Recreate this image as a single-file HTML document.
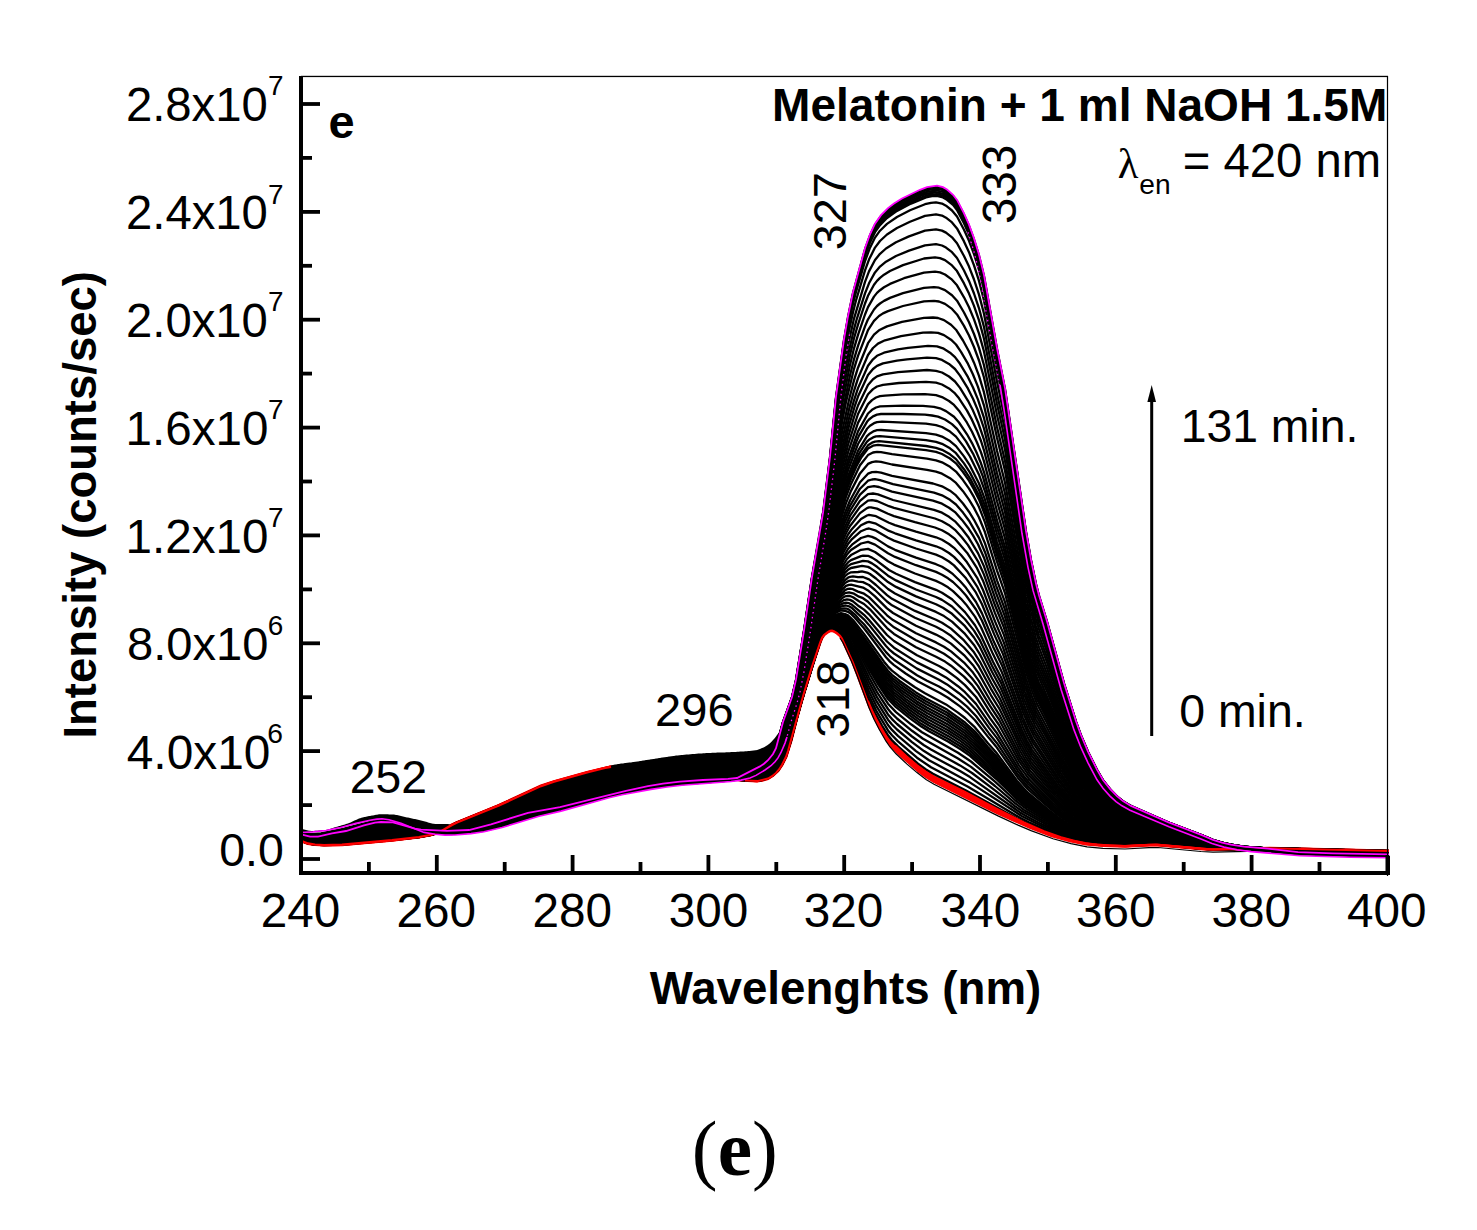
<!DOCTYPE html>
<html><head><meta charset="utf-8"><style>
html,body{margin:0;padding:0;background:#fff;overflow:hidden;width:1477px;height:1230px;}
svg{display:block;}
</style></head><body>
<svg width="1477" height="1230" viewBox="0 0 1477 1230">
<rect width="1477" height="1230" fill="#fff"/>
<path d="M301 840.8l7 2.7 7 1.1 9 0.5 18-0.4 50-4.4 27-3.2 12-2.2 8-2.4 13-7.6 5-2.4 42-17.1 42-19.4 13-4.3 33-9.2 23-5.6 12-0.2 23 1.7 66 8.6 32 3.3 14 0.7 5-0.8 6-1.7 5-3.1 5-4.6 4-6 4-8 5-16 6-23.4 7-24.6 9-29.4 7-20.6 2-5 2-2.9 4-3.1 2-1 2-0.2 2 0.6 3 1.9 3 2.6 2 2.9 11 24.1 16 42.6 5 11.3 6 11.6 7 11.9 4 5.4 6 6.5 21 18.6 8 6 8 4.9 64 31.6 32 14.3 22 8.3 18 5 16 3.3 17 1.5 22 0.8 24-1.4 9 0 43 3.9 12 0.7 57-1.3 119 2.8" fill="none" stroke="#f00" stroke-width="3"/>
<path d="M301 840.8l7 2.6 7 1.2 9 0.5 18-0.4 50-4.5 27-3.1 12-2.2 8-2.5 17-9.4 43-17.6 42-19.3 13-4.3 33-9.2 23-5.6 12-0.2 23 1.7 66 8.5 32 3.2 14 0.7 5-0.7 6-1.8 5-3.1 5-4.6 4-6 4-8 5-16.1 7-27.1 6-20.9 9-29.5 7-20.8 2-4.9 2-3 4-3.3 2-1 2-0.3 2 0.5 3 1.8 3 2.5 2 2.9 10 21.3 17 44.6 6 13.3 7 13 6 9.7 4 5.2 6 6.2 20 17.5 8 5.9 8 4.9 30 14.7 50 25.3 13 6 13 5.3 17 6.2 21 5.5 12 2.1 18 1.4 18 0.5 30-1.4 56 4.7 58-1.2 119 2.8" fill="none" stroke="#f00" stroke-width="2.5"/>
<path d="M301 840.7l7 2.7 7 1.2 9 0.4 18-0.4 50-4.5 27-3 12-2.2 8-2.5 17-9.4 43-17.5 42-19.3 13-4.2 33-9.3 23-5.6 12-0.2 23 1.7 66 8.4 31 3.1 15 0.8 5-0.8 6-1.8 5-3 5-4.8 4-6 4-8 5-16 7-27.2 6-21 9-29.6 7-20.8 2-5 2-3 4-3.4 2-1 2-0.4 3 0.8 4 2.8 2 2.1 2 3.3 10 21.6 16 41.9 6 13.1 7 12.9 6 9.7 4 5.1 6 6.2 20 17.4 8 5.9 8 4.9 31 15.2 54 28.1 24 10.6 16 5.8 21 5.6 11 1.9 18 1.4 17 0.5 23-1.2 9 0 43 4 12 0.7 57-1.2 119 2.8" fill="none" stroke="#f00" stroke-width="2.5"/>
<path d="M301.0,828.5 302.0,828.8 303.0,829.2 304.0,829.5 305.0,829.8 306.0,830.0 307.0,830.3 308.0,830.5 309.0,830.7 310.0,830.8 311.0,830.9 312.0,830.9 313.0,830.9 314.0,830.9 315.0,830.8 316.0,830.8 317.0,830.7 318.0,830.7 319.0,830.6 320.0,830.5 321.0,830.4 322.0,830.3 323.0,830.2 324.0,830.1 325.0,830.0 326.0,829.9 327.0,829.7 328.0,829.4 329.0,829.2 330.0,828.9 331.0,828.6 332.0,828.2 333.0,827.9 334.0,827.6 335.0,827.3 336.0,827.0 337.0,826.7 338.0,826.4 339.0,826.1 340.0,825.9 341.0,825.6 342.0,825.3 343.0,825.0 344.0,824.7 345.0,824.4 346.0,824.1 347.0,823.8 348.0,823.4 349.0,823.1 350.0,822.7 351.0,822.3 352.0,821.8 353.0,821.3 354.0,820.8 355.0,820.3 356.0,819.9 357.0,819.4 358.0,818.9 359.0,818.5 360.0,818.2 361.0,817.9 362.0,817.6 363.0,817.4 364.0,817.1 365.0,816.9 366.0,816.7 367.0,816.5 368.0,816.3 369.0,816.1 370.0,815.9 371.0,815.8 372.0,815.6 373.0,815.4 374.0,815.2 375.0,815.0 376.0,814.8 377.0,814.7 378.0,814.5 379.0,814.3 380.0,814.2 381.0,814.2 382.0,814.2 383.0,814.2 384.0,814.2 385.0,814.2 386.0,814.3 387.0,814.3 388.0,814.3 389.0,814.4 390.0,814.4 391.0,814.5 392.0,814.5 393.0,814.6 394.0,814.6 395.0,814.7 396.0,814.9 397.0,815.1 398.0,815.3 399.0,815.5 400.0,815.7 401.0,816.0 402.0,816.2 403.0,816.5 404.0,816.7 405.0,817.0 406.0,817.2 407.0,817.4 408.0,817.6 409.0,817.8 410.0,818.0 411.0,818.2 412.0,818.5 413.0,818.7 414.0,818.9 415.0,819.1 416.0,819.3 417.0,819.6 418.0,819.8 419.0,820.0 420.0,820.2 421.0,820.4 422.0,820.7 423.0,820.9 424.0,821.2 425.0,821.5 426.0,821.8 427.0,822.1 428.0,822.4 429.0,822.7 430.0,823.0 431.0,823.3 432.0,823.5 433.0,823.7 434.0,823.8 435.0,823.9 436.0,823.9 437.0,823.9 438.0,823.9 439.0,823.9 440.0,823.9 441.0,823.9 442.0,823.9 443.0,823.9 444.0,823.9 445.0,823.9 446.0,823.9 447.0,823.9 448.0,823.9 449.0,824.3 450.0,824.6 451.0,824.8 452.0,824.9 453.0,824.8 454.0,824.7 455.0,824.5 456.0,824.2 457.0,823.9 458.0,823.5 459.0,823.0 460.0,822.6 461.0,822.2 462.0,821.7 463.0,821.3 464.0,820.9 465.0,820.5 466.0,820.1 467.0,819.7 468.0,819.2 469.0,818.8 470.0,818.4 471.0,818.0 472.0,817.6 473.0,817.2 474.0,816.8 475.0,816.4 476.0,816.0 477.0,815.6 478.0,815.2 479.0,814.8 480.0,814.4 481.0,814.0 482.0,813.6 483.0,813.2 484.0,812.8 485.0,812.4 486.0,812.0 487.0,811.6 488.0,811.3 489.0,810.9 490.0,810.5 491.0,810.1 492.0,809.7 493.0,809.3 494.0,808.9 495.0,808.4 496.0,808.0 497.0,807.6 498.0,807.2 499.0,806.8 500.0,806.3 501.0,805.9 502.0,805.4 503.0,805.0 504.0,804.5 505.0,804.1 506.0,803.6 507.0,803.2 508.0,802.7 509.0,802.2 510.0,801.8 511.0,801.3 512.0,800.8 513.0,800.4 514.0,799.9 515.0,799.5 516.0,799.0 517.0,798.5 518.0,798.1 519.0,797.6 520.0,797.1 521.0,796.7 522.0,796.2 523.0,795.7 524.0,795.2 525.0,794.7 526.0,794.2 527.0,793.7 528.0,793.2 529.0,792.8 530.0,792.3 531.0,791.8 532.0,791.3 533.0,790.8 534.0,790.4 535.0,789.9 536.0,789.5 537.0,789.0 538.0,788.6 539.0,788.2 540.0,787.8 541.0,787.4 542.0,787.0 543.0,786.7 544.0,786.3 545.0,786.0 546.0,785.6 547.0,785.3 548.0,785.0 549.0,784.7 550.0,784.3 551.0,784.0 552.0,783.7 553.0,783.4 554.0,783.1 555.0,782.8 556.0,782.6 557.0,782.3 558.0,782.0 559.0,781.7 560.0,781.4 561.0,781.1 562.0,780.8 563.0,780.6 564.0,780.3 565.0,780.0 566.0,779.8 567.0,779.5 568.0,779.3 569.0,779.0 570.0,778.7 571.0,778.5 572.0,778.2 573.0,777.9 574.0,777.6 575.0,777.4 576.0,777.1 577.0,776.8 578.0,776.5 579.0,776.2 580.0,775.9 581.0,775.6 582.0,775.3 583.0,775.0 584.0,774.7 585.0,774.4 586.0,774.1 587.0,773.9 588.0,773.6 589.0,773.3 590.0,773.0 591.0,772.8 592.0,772.5 593.0,772.3 594.0,772.1 595.0,771.8 596.0,771.6 597.0,771.3 598.0,771.0 599.0,770.8 600.0,770.5 601.0,770.1 602.0,769.6 603.0,769.2 604.0,768.8 605.0,768.3 606.0,767.9 607.0,767.4 608.0,766.9 609.0,766.5 610.0,766.0 611.0,765.5 612.0,765.2 613.0,765.0 614.0,764.8 615.0,764.6 616.0,764.4 617.0,764.2 618.0,764.1 619.0,763.9 620.0,763.8 621.0,763.6 622.0,763.5 623.0,763.4 624.0,763.2 625.0,763.1 626.0,763.0 627.0,762.8 628.0,762.7 629.0,762.6 630.0,762.5 631.0,762.4 632.0,762.2 633.0,762.1 634.0,762.0 635.0,761.8 636.0,761.7 637.0,761.6 638.0,761.4 639.0,761.3 640.0,761.1 641.0,760.9 642.0,760.8 643.0,760.6 644.0,760.5 645.0,760.3 646.0,760.1 647.0,760.0 648.0,759.8 649.0,759.7 650.0,759.5 651.0,759.3 652.0,759.2 653.0,759.0 654.0,758.9 655.0,758.7 656.0,758.5 657.0,758.4 658.0,758.2 659.0,758.1 660.0,757.9 661.0,757.8 662.0,757.6 663.0,757.5 664.0,757.3 665.0,757.2 666.0,757.0 667.0,756.9 668.0,756.7 669.0,756.6 670.0,756.5 671.0,756.3 672.0,756.2 673.0,756.0 674.0,755.9 675.0,755.8 676.0,755.6 677.0,755.5 678.0,755.4 679.0,755.3 680.0,755.2 681.0,755.1 682.0,755.0 683.0,754.9 684.0,754.8 685.0,754.7 686.0,754.6 687.0,754.5 688.0,754.4 689.0,754.4 690.0,754.3 691.0,754.2 692.0,754.1 693.0,754.0 694.0,753.9 695.0,753.9 696.0,753.8 697.0,753.7 698.0,753.6 699.0,753.6 700.0,753.5 701.0,753.4 702.0,753.4 703.0,753.3 704.0,753.2 705.0,753.2 706.0,753.1 707.0,753.1 708.0,753.0 709.0,753.0 710.0,752.9 711.0,752.9 712.0,752.8 713.0,752.8 714.0,752.7 715.0,752.7 716.0,752.7 717.0,752.6 718.0,752.6 719.0,752.6 720.0,752.5 721.0,752.5 722.0,752.5 723.0,752.4 724.0,752.4 725.0,752.4 726.0,752.3 727.0,752.3 728.0,752.2 729.0,752.2 730.0,752.2 731.0,752.1 732.0,752.1 733.0,752.0 734.0,752.0 735.0,751.9 736.0,751.9 737.0,751.8 738.0,751.8 739.0,751.7 740.0,751.6 741.0,751.6 742.0,751.5 743.0,751.5 744.0,751.4 745.0,751.3 746.0,751.3 747.0,751.2 748.0,751.1 749.0,751.0 750.0,750.9 751.0,750.8 752.0,750.7 753.0,750.6 754.0,750.4 755.0,750.3 756.0,750.2 757.0,749.9 758.0,749.7 759.0,749.3 760.0,749.0 761.0,748.5 762.0,748.1 763.0,747.7 764.0,747.2 765.0,746.7 766.0,746.1 767.0,745.5 768.0,744.8 769.0,744.0 770.0,743.2 771.0,742.3 772.0,741.2 773.0,740.1 774.0,738.9 775.0,737.7 776.0,736.4 777.0,735.1 778.0,733.7 779.0,732.2 780.0,730.7 781.0,729.1 782.0,727.6 783.0,726.0 784.0,724.4 785.0,722.9 786.0,721.3 787.0,719.6 788.0,718.0 789.0,716.3 790.0,714.7 L790.0,725.7 789.0,729.5 788.0,733.4 787.0,737.1 786.0,740.4 785.0,743.1 784.0,745.6 783.0,748.0 782.0,750.3 781.0,752.5 780.0,754.5 779.0,756.3 778.0,757.9 777.0,759.4 776.0,760.7 775.0,761.8 774.0,762.9 773.0,763.9 772.0,764.8 771.0,765.7 770.0,766.5 769.0,767.3 768.0,768.0 767.0,768.7 766.0,769.4 765.0,770.0 764.0,770.7 763.0,771.3 762.0,771.9 761.0,772.5 760.0,773.1 759.0,773.7 758.0,774.3 757.0,774.8 756.0,775.4 755.0,775.9 754.0,776.4 753.0,776.8 752.0,777.3 751.0,777.6 750.0,778.0 749.0,778.3 748.0,778.6 747.0,778.8 746.0,779.1 745.0,779.3 744.0,779.5 743.0,779.8 742.0,780.0 741.0,780.1 740.0,780.3 739.0,780.5 738.0,780.6 737.0,780.8 736.0,780.9 735.0,781.1 734.0,781.2 733.0,781.3 732.0,781.4 731.0,781.5 730.0,781.6 729.0,781.7 728.0,781.8 727.0,781.9 726.0,782.0 725.0,782.1 724.0,782.2 723.0,782.3 722.0,782.4 721.0,782.5 720.0,782.5 719.0,782.6 718.0,782.7 717.0,782.8 716.0,782.8 715.0,782.9 714.0,783.0 713.0,783.1 712.0,783.1 711.0,783.2 710.0,783.3 709.0,783.4 708.0,783.4 707.0,783.5 706.0,783.6 705.0,783.6 704.0,783.7 703.0,783.8 702.0,783.9 701.0,784.0 700.0,784.0 699.0,784.1 698.0,784.2 697.0,784.2 696.0,784.3 695.0,784.4 694.0,784.5 693.0,784.5 692.0,784.6 691.0,784.7 690.0,784.7 689.0,784.8 688.0,784.9 687.0,784.9 686.0,785.0 685.0,785.1 684.0,785.2 683.0,785.2 682.0,785.3 681.0,785.4 680.0,785.5 679.0,785.6 678.0,785.7 677.0,785.8 676.0,785.9 675.0,786.0 674.0,786.1 673.0,786.2 672.0,786.4 671.0,786.5 670.0,786.6 669.0,786.7 668.0,786.9 667.0,787.0 666.0,787.1 665.0,787.3 664.0,787.4 663.0,787.5 662.0,787.7 661.0,787.8 660.0,788.0 659.0,788.1 658.0,788.2 657.0,788.4 656.0,788.5 655.0,788.7 654.0,788.9 653.0,789.0 652.0,789.2 651.0,789.4 650.0,789.5 649.0,789.7 648.0,789.9 647.0,790.1 646.0,790.3 645.0,790.4 644.0,790.6 643.0,790.8 642.0,791.0 641.0,791.2 640.0,791.4 639.0,791.6 638.0,791.8 637.0,791.9 636.0,792.1 635.0,792.3 634.0,792.5 633.0,792.7 632.0,792.9 631.0,793.1 630.0,793.2 629.0,793.4 628.0,793.6 627.0,793.8 626.0,794.0 625.0,794.2 624.0,794.4 623.0,794.6 622.0,794.8 621.0,795.0 620.0,795.2 619.0,795.4 618.0,795.6 617.0,795.8 616.0,796.1 615.0,796.3 614.0,796.5 613.0,796.8 612.0,797.0 611.0,797.3 610.0,797.5 609.0,797.8 608.0,798.1 607.0,798.4 606.0,798.7 605.0,798.9 604.0,799.2 603.0,799.5 602.0,799.8 601.0,800.1 600.0,800.4 599.0,800.7 598.0,801.0 597.0,801.3 596.0,801.5 595.0,801.8 594.0,802.1 593.0,802.4 592.0,802.7 591.0,802.9 590.0,803.2 589.0,803.5 588.0,803.8 587.0,804.0 586.0,804.3 585.0,804.6 584.0,804.8 583.0,805.1 582.0,805.4 581.0,805.7 580.0,805.9 579.0,806.2 578.0,806.5 577.0,806.8 576.0,807.0 575.0,807.3 574.0,807.6 573.0,807.8 572.0,808.1 571.0,808.4 570.0,808.7 569.0,809.0 568.0,809.2 567.0,809.5 566.0,809.8 565.0,810.1 564.0,810.3 563.0,810.6 562.0,810.9 561.0,811.1 560.0,811.4 559.0,811.6 558.0,811.9 557.0,812.1 556.0,812.3 555.0,812.6 554.0,812.8 553.0,813.0 552.0,813.2 551.0,813.4 550.0,813.6 549.0,813.8 548.0,814.0 547.0,814.3 546.0,814.5 545.0,814.7 544.0,814.9 543.0,815.2 542.0,815.4 541.0,815.6 540.0,815.9 539.0,816.2 538.0,816.4 537.0,816.7 536.0,817.0 535.0,817.3 534.0,817.6 533.0,817.9 532.0,818.2 531.0,818.5 530.0,818.8 529.0,819.1 528.0,819.5 527.0,819.8 526.0,820.1 525.0,820.4 524.0,820.7 523.0,821.0 522.0,821.3 521.0,821.7 520.0,822.0 519.0,822.3 518.0,822.6 517.0,822.9 516.0,823.2 515.0,823.5 514.0,823.8 513.0,824.1 512.0,824.5 511.0,824.8 510.0,825.1 509.0,825.4 508.0,825.7 507.0,826.0 506.0,826.3 505.0,826.6 504.0,826.9 503.0,827.2 502.0,827.5 501.0,827.8 500.0,828.1 499.0,828.3 498.0,828.6 497.0,828.8 496.0,829.1 495.0,829.3 494.0,829.5 493.0,829.8 492.0,830.0 491.0,830.3 490.0,830.5 489.0,830.7 488.0,831.0 487.0,831.2 486.0,831.4 485.0,831.6 484.0,831.8 483.0,832.0 482.0,832.2 481.0,832.3 480.0,832.5 479.0,832.7 478.0,832.8 477.0,833.0 476.0,833.1 475.0,833.2 474.0,833.3 473.0,833.4 472.0,833.5 471.0,833.6 470.0,833.8 469.0,833.9 468.0,834.0 467.0,834.1 466.0,834.2 465.0,834.3 464.0,834.4 463.0,834.5 462.0,834.6 461.0,834.6 460.0,834.7 459.0,834.8 458.0,834.9 457.0,834.9 456.0,835.0 455.0,835.0 454.0,835.1 453.0,835.1 452.0,835.2 451.0,835.2 450.0,835.2 449.0,835.2 448.0,835.2 447.0,835.2 446.0,835.2 445.0,835.1 444.0,835.1 443.0,835.0 442.0,835.0 441.0,834.9 440.0,834.8 439.0,834.7 438.0,834.6 437.0,834.5 436.0,834.4 435.0,834.3 434.0,834.1 433.0,834.0 432.0,833.9 431.0,833.7 430.0,833.6 429.0,833.4 428.0,833.3 427.0,833.1 426.0,832.9 425.0,832.7 424.0,832.4 423.0,832.1 422.0,831.7 421.0,831.4 420.0,831.0 419.0,830.6 418.0,830.2 417.0,829.8 416.0,829.4 415.0,829.0 414.0,828.6 413.0,828.2 412.0,827.8 411.0,827.4 410.0,827.0 409.0,826.5 408.0,826.1 407.0,825.7 406.0,825.2 405.0,824.8 404.0,824.4 403.0,824.0 402.0,823.7 401.0,823.3 400.0,823.0 399.0,822.7 398.0,822.4 397.0,822.1 396.0,821.8 395.0,821.4 394.0,821.1 393.0,820.8 392.0,820.5 391.0,820.2 390.0,820.0 389.0,819.7 388.0,819.5 387.0,819.3 386.0,819.1 385.0,819.0 384.0,818.9 383.0,818.8 382.0,818.8 381.0,818.8 380.0,818.9 379.0,818.9 378.0,819.0 377.0,819.1 376.0,819.2 375.0,819.4 374.0,819.5 373.0,819.7 372.0,819.9 371.0,820.1 370.0,820.3 369.0,820.5 368.0,820.7 367.0,821.0 366.0,821.2 365.0,821.4 364.0,821.6 363.0,821.9 362.0,822.1 361.0,822.3 360.0,822.5 359.0,822.7 358.0,822.9 357.0,823.2 356.0,823.4 355.0,823.6 354.0,823.9 353.0,824.2 352.0,824.4 351.0,824.7 350.0,825.0 349.0,825.2 348.0,825.5 347.0,825.8 346.0,826.1 345.0,826.3 344.0,826.6 343.0,826.9 342.0,827.1 341.0,827.4 340.0,827.6 339.0,827.9 338.0,828.1 337.0,828.3 336.0,828.5 335.0,828.7 334.0,828.9 333.0,829.1 332.0,829.3 331.0,829.6 330.0,829.8 329.0,829.9 328.0,830.1 327.0,830.3 326.0,830.5 325.0,830.7 324.0,830.8 323.0,831.0 322.0,831.1 321.0,831.2 320.0,831.3 319.0,831.4 318.0,831.5 317.0,831.6 316.0,831.7 315.0,831.8 314.0,831.8 313.0,831.9 312.0,832.0 311.0,832.1 310.0,832.1 309.0,832.2 308.0,832.3 307.0,832.3 306.0,832.4 305.0,832.4 304.0,832.4 303.0,832.5 302.0,832.5 301.0,832.5Z" fill="#000"/>
<g fill="none" stroke="#000" stroke-width="2.3" stroke-linejoin="round">
<path d="M301 834.3l9 2.4 8 0.1 14-3.4 14-2.4 18-5.5 11-2.8 6-0.7 12 0.4 22 6.2 6 1.2 26 1.1 22-0.9 22-5.7 37-11.4 31-5.5 67-16.5 22-4.7 15-2.5 17-2 23-1.7 25-1.1 9-0.9 23-11.6 4-2.7 4-3.4 5-6.3 3-5.7 7-26.2 9-25 4-17.2 8-49.3 8-53.4 11-63.9 7-56 6-59.9 8-57.5 4-22.8 5-24.1 12-43.8 5-13.9 5-10.6 6-8.5 7-7 6-4.6 8-4.9 18-8.8 7-2.6 10-1.4 6 1.5 4 2.4 6 5.2 4 5.1 7 13.5 5 11.2 5 13.7 5 16.1 5 20.4 13 73 8 40 21 142.6 5 28.4 5 24.1 3 11.6 8 25.9 17 61.7 12 38.3 5 13.7 7 16.4 9 18.1 6 10.3 7 8.9 7 7.3 6 4.9 8 4.7 37 16.3 34 13 11 4.7 9 2.7 9 2.1 13 2 24 1.9 30 3.5 35 1.3 56 1"/>
<path d="M301 834.3l9 2.4 8 0.1 14-3.3 14-2.4 25-7.4 6-1.3 4-0.3 12 0.3 22 6.2 6 1.2 26 1.1 22-1 22-5.7 37-11.4 31-5.5 66-16.3 22-4.7 15-2.5 18-2.1 23-1.7 25-1.1 9-0.9 23-11.5 4-2.7 4-3.5 5-6.2 3-5.8 7-26 9-24.9 4-17.2 8-49.1 8-53.4 8-44.8 4-26 6-48.7 6-59.8 8-57.3 4-22.8 5-24.1 12-43.6 5-13.9 5-10.5 6-8.5 7-6.9 6-4.5 8-5 18-8.6 7-2.7 10-1.3 6 1.5 4 2.4 6 5.2 4 5.1 7 13.4 5 11.3 5 13.6 5 16 5 20.4 13 72.8 8 39.8 21 142.3 5 28.3 5 24.1 3 11.5 8 25.9 17 61.5 12 38.1 5 13.7 7 16.4 9 18 6 10.3 7 8.9 7 7.3 6 4.8 8 4.8 37 16.1 34 13.1 11 4.6 9 2.8 9 2 13 2 24 1.9 30 3.5 35 1.3 56 1"/>
<path d="M301 834.4l9 2.3 8 0.1 14-3.3 14-2.4 25-7.3 6-1.3 4-0.3 12 0.3 22 6.2 6 1.1 26 1.1 22-1 22-5.7 37-11.4 31-5.6 66-16.2 22-4.8 15-2.4 18-2.2 23-1.6 25-1.1 9-0.9 23-11.5 4-2.7 4-3.4 5-6.2 3-5.8 7-26 9-24.8 4-17.1 8-49 8-53.2 8-44.8 4-25.9 6-48.5 6-59.6 8-57.2 4-22.8 5-24 12-43.6 5-13.8 5-10.4 6-8.4 7-6.9 6-4.5 8-4.9 18-8.6 7-2.6 10-1.3 6 1.5 4 2.4 6 5.1 4 5.2 7 13.4 5 11.2 5 13.6 5 16 5 20.3 13 72.5 8 39.8 21 141.9 5 28.2 5 24 3 11.5 8 25.8 17 61.4 12 38 5 13.6 7 16.4 9 17.9 6 10.3 7 8.9 7 7.2 6 4.9 8 4.7 37 16.1 34 13 11 4.7 9 2.7 9 2 13 2 24 1.9 30 3.5 36 1.3 55 1"/>
<path d="M301 834.4l9 2.3 8 0.1 14-3.3 14-2.3 25-7.4 6-1.2 4-0.4 12 0.4 22 6.1 6 1.1 26 1.1 22-1.1 22-5.6 37-11.5 31-5.5 65-16.1 23-4.9 15-2.5 18-2.1 23-1.6 25-1.1 9-0.9 23-11.5 4-2.6 4-3.5 5-6.2 3-5.7 7-25.9 9-24.8 4-16.9 8-48.9 8-53.2 8-44.7 4-25.8 6-48.3 6-59.5 8-57.1 4-22.7 5-24 12-43.4 5-13.7 5-10.4 6-8.4 7-6.8 6-4.5 8-4.8 19-9 7-2.3 9-1.1 6 1.5 4 2.4 6 5.1 4 5.2 7 13.3 5 11.2 5 13.6 5 15.9 5 20.3 13 72.3 8 39.7 21 141.4 5 28.2 5 24 3 11.5 8 25.7 17 61.1 12 38 5 13.5 7 16.4 9 17.9 6 10.2 7 8.8 7 7.3 6 4.8 8 4.7 38 16.5 33 12.6 11 4.6 9 2.7 9 2 12 1.9 25 2 30 3.4 36 1.4 55 1"/>
<path d="M301 834.4l9 2.4 8 0.1 14-3.3 14-2.4 25-7.3 6-1.3 4-0.3 12 0.3 22 6.1 6 1.1 25 1.1 23-1.1 22-5.7 37-11.4 31-5.6 64-15.8 23-5 15-2.5 18-2.1 24-1.7 25-1.1 9-0.9 23-11.4 4-2.7 4-3.4 5-6.2 3-5.7 7-25.8 9-24.8 4-16.8 8-48.8 8-53.1 8-44.7 4-25.6 6-48.1 6-59.3 8-57 4-22.7 5-23.9 3-12 9-31.3 5-13.7 5-10.3 6-8.3 7-6.8 6-4.4 8-4.8 19-8.9 7-2.4 9-1 6 1.5 4 2.4 6 5.1 4 5.1 7 13.4 5 11.1 5 13.6 5 15.9 5 20.2 13 72.1 8 39.6 21 141 5 28.1 5 23.9 3 11.5 8 25.6 17 61 12 37.8 5 13.5 7 16.3 9 17.9 6 10.2 7 8.8 7 7.2 6 4.8 8 4.7 38 16.4 33 12.6 11 4.6 9 2.7 9 2 12 1.9 25 2 30 3.4 36 1.4 55 1"/>
<path d="M301 834.4l9 2.4 8 0.1 14-3.3 14-2.4 25-7.2 6-1.3 4-0.4 12 0.4 22 6.1 6 1.1 25 0.9 23-1 22-5.7 37-11.5 31-5.6 64-15.8 23-4.9 15-2.5 18-2.2 24-1.6 25-1.1 9-0.9 23-11.4 4-2.6 4-3.5 5-6.2 3-5.7 7-25.7 9-24.7 4-16.7 8-48.6 8-53.1 8-44.6 4-25.5 6-47.9 6-59.2 8-56.8 4-22.7 5-23.9 3-11.9 9-31.2 5-13.7 5-10.2 5-7.1 7-7.1 10-7.1 14-7.3 15-6.2 6-1.2 5-0.3 6 1.5 4 2.4 6 5.1 4 5.1 7 13.3 5 11.2 5 13.4 5 15.9 5 20.2 13 71.9 8 39.5 21 140.6 5 28 5 23.8 3 11.5 8 25.5 17 60.9 12 37.7 5 13.5 7 16.2 9 17.8 6 10.2 7 8.8 7 7.2 6 4.8 7 4.1 38 16.5 34 12.9 11 4.7 9 2.7 9 1.9 12 1.9 25 2 30 3.4 36 1.4 55 0.9"/>
<path d="M301 834.5l9 2.4 8 0.1 14-3.3 14-2.3 25-7.2 6-1.3 4-0.4 12 0.4 22 6 6 1 25 0.9 23-1.2 22-5.7 37-11.5 31-5.7 55-13.6 31-6.8 15-2.5 19-2.3 24-1.6 25-1 9-0.9 23-11.2 4-2.6 4-3.5 5-6.1 3-5.7 7-25.4 9-24.5 4-16.4 8-48.1 9-58.9 7-38.3 4-25.1 6-47.2 6-58.6 4-30.3 4-26.1 5-27.5 4-18.7 3-11.8 9-30.8 5-13.5 5-10.1 5-6.9 7-6.8 10-6.9 13-6.7 15-6.1 6-1.3 5-0.5 6 1.2 4 2.1 6 4.8 5 6 7 13.2 5 11.1 5 13.3 5 15.8 5 19.9 13 71.2 8 39.1 21 139.2 5 27.7 5 23.5 3 11.4 8 25.3 17 60.2 12 37.3 5 13.4 7 16 9 17.7 6 10 7 8.7 7 7.1 6 4.8 7 4.1 38 16.3 34 12.8 11 4.6 9 2.6 9 2 12 1.9 25 1.9 30 3.4 36 1.3 55 1"/>
<path d="M301 834.6l9 2.4 8 0.1 14-3.1 14-2.3 25-7.2 10-1.6 12 0.3 22 5.8 6 1.1 23 0.7 25-1.4 23-6.1 36-11.4 31-5.8 53-13.1 30-6.5 16-2.7 20-2.3 24-1.6 26-1 9-0.8 23-11 4-2.6 4-3.4 5-6.1 3-5.5 7-24.9 9-24.3 4-15.7 4-22.4 13-83.1 11-62.5 6-45.8 7-65.4 7-47.7 5-27.1 4-18.4 3-11.7 9-30.1 4-10.8 6-12 5-6.6 7-6.5 10-6.5 13-6.3 15-5.8 11-1.5 6 1.2 4 2.1 6 4.7 5 6 7 13 5 10.8 5 13.2 5 15.5 5 19.6 13 69.8 8 38.4 21 136.4 5 27.2 5 23.2 3 11.1 8 24.8 17 59.1 12 36.6 5 13.1 7 15.8 9 17.3 6 9.8 7 8.6 7 6.9 6 4.7 7 4 39 16.3 44 16.8 9 2.6 9 1.9 12 1.8 25 1.9 30 3.3 36 1.4 55 0.9"/>
<path d="M301 834.8l9 2.4 5 0.4 4-0.4 13-3 14-2.2 18-5.3 10-2.4 6-0.9 13 0.3 22 5.6 7 1 21 0.5 25-1.6 7-1.5 16-4.5 37-11.8 30-5.7 52-12.9 26-5.7 20-3.4 20-2.3 26-1.6 26-0.9 9-0.8 23-10.7 4-2.5 4-3.3 5-6 3-5.5 7-24.1 10-27.2 4-16.8 8-47.2 8-51.5 8-43.3 4-24.7 6-45.7 6-55.5 7-46.8 5-26.5 5-22.2 11-36.7 4-10.5 6-11.4 5-6.2 6-5.3 10-6.2 13-5.9 16-5.8 11-1.3 6 1.3 4 2 6 4.7 5 5.9 7 12.8 5 10.6 5 12.9 5 15.1 5 19.1 13 68.2 8 37.5 21 133.1 5 26.6 5 22.5 3 10.9 8 24.2 17 57.7 12 35.7 5 12.8 7 15.4 9 16.8 6 9.6 7 8.4 7 6.8 6 4.5 7 3.9 40 16.3 43 16 9 2.5 9 1.9 12 1.8 25 1.7 30 3.3 37 1.4 54 1"/>
<path d="M301 834.9l9 2.5 5 0.3 4-0.3 13-2.9 14-2.2 18-5.2 10-2.3 6-0.9 13 0.2 22 5.4 7 1 20 0.3 26-1.9 7-1.5 16-4.6 38-12.2 29-5.6 52-12.9 25-5.3 20-3.4 20-2.2 27-1.5 26-0.8 9-0.7 23-10.4 4-2.5 4-3.3 5-5.9 3-5.4 7-23.4 10-26.9 4-16 4-21.9 13-80.9 11-60.8 6-44.1 6-54.1 7-45.9 5-25.8 5-21.8 3-10.8 8-24.9 4-10.1 6-10.9 5-5.8 6-4.9 10-5.7 13-5.4 16-5.3 11-1.1 6 1.3 4 2.1 6 4.6 5 5.8 7 12.5 5 10.4 5 12.6 5 14.8 5 18.7 13 66.6 8 36.5 21 129.8 5 25.9 5 22 3 10.6 8 23.7 17 56.2 12 34.9 5 12.4 7 15 9 16.4 6 9.4 7 8.1 7 6.6 6 4.4 7 3.8 41 16.2 42 15.3 9 2.5 21 3.5 25 1.7 30 3.3 37 1.3 54 1"/>
<path d="M301 835.1l9 2.4 5 0.4 4-0.3 13-2.8 14-2.2 18-5.1 10-2.3 6-0.9 13 0.2 22 5.2 7 0.9 19 0.3 27-2.3 7-1.5 17-5 37-11.9 29-5.8 51-12.7 24-5 21-3.5 20-2.1 26-1.4 28-0.8 9-0.7 23-10.1 4-2.5 4-3.2 5-5.8 3-5.3 7-22.9 10-26.6 5-20.2 8-46.4 8-50.1 8-42.1 4-24 6-44.1 5-44.8 5-33.6 8-41.4 4-16.8 4-13.7 7-21.1 3-7.7 6-11 3-3.9 3-3 4-3.2 6-3.7 13-5.9 21-6.6 11-1.2 5 0.8 5 2 7 5.3 5 5.7 7 12.3 5 10.2 5 12.3 5 14.5 5 18.3 13 65.1 8 35.7 21 126.9 5 25.3 5 21.5 3 10.3 8 23.2 17 55.1 12 34 5 12.2 7 14.7 9 16 6 9.1 7 8 7 6.4 6 4.3 7 3.7 42 16.2 41 14.6 9 2.4 21 3.5 25 1.6 30 3.2 38 1.4 53 0.9"/>
<path d="M301 835.2l9 2.5 5 0.4 4-0.3 13-2.7 14-2.2 18-5 10-2.3 6-0.8 13 0.1 22 5 7 0.9 19 0.1 26-2.4 7-1.5 17-4.9 38-12.5 28-5.6 51-12.7 22-4.6 23-3.7 20-2.1 64-2.7 22-9.3 5-2.9 4-3.1 5-5.8 3-5.2 7-22.3 10-26.4 5-19.4 8-45.3 8-49.5 12-64.8 6-42.3 5-43.7 5-33 8-40.3 4-16.6 4-13.5 7-20.3 3-7.4 6-10.5 3-3.7 3-2.7 4-2.9 6-3.4 14-5.7 20-5.6 11-1 5 0.8 5 2.1 7 5.2 5 5.6 7 12 5 10 5 12.1 5 14.2 5 17.9 13 63.4 8 34.9 21 123.7 5 24.6 5 21 3 10.1 8 22.7 17 53.6 12 33.2 5 11.9 7 14.3 9 15.6 6 8.9 7 7.7 7 6.3 6 4.2 7 3.6 42 15.7 41 14.4 8 2.1 9 1.8 13 1.7 25 1.6 30 3.1 38 1.4 53 0.9"/>
<path d="M301 835.4l9 2.5 5 0.4 4-0.3 13-2.6 14-2.1 18-4.9 10-2.3 6-0.8 13 0.1 22 4.7 7 0.9 18 0 27-2.8 7-1.5 17-5 39-12.9 27-5.5 51-12.8 19-3.8 24-3.9 20-2 19-1 37-0.8 10-0.7 22-9 8-5.1 5-5.2 4-6.4 7-21.7 10-26.2 5-18.7 4-20.8 13-77.8 11-57.7 6-40.6 6-49.5 4-25.2 8-39.1 4-16.1 4-13.3 7-19.5 3-7.1 6-9.8 3-3.5 3-2.5 4-2.6 6-3 13-4.8 21-5.2 10-0.8 5 0.6 6 2.4 7 5.1 5 5.5 7 11.8 5 9.8 5 11.7 5 13.9 5 17.4 13 61.7 8 33.9 21 120.2 5 24 5 20.4 3 9.8 8 22.1 17 52.2 12 32.3 5 11.5 7 13.9 9 15.2 6 8.6 7 7.5 7 6.1 6 4.1 7 3.5 44 15.9 39 13.3 8 2.1 21 3.3 26 1.6 30 3 39 1.4 52 0.9"/>
<path d="M301 835.6l9 2.5 5 0.4 4-0.3 13-2.6 14-2 18-4.8 10-2.3 6-0.8 13 0.1 23 4.7 7 0.7 17-0.2 26-2.9 8-1.7 17-5.1 39-13 30-6.3 53-13.2 29-5.1 23-2.7 23-1.3 48-1.2 4-1.1 8-3.6 11-4.2 8-5 5-5.1 4-6.3 7-21.2 10-26 5-18.2 4-20 13-76.9 12-62.4 6-40.5 5-40.7 4-24.8 4-20.4 8-33.3 4-13 10-25.7 6-9.3 5-4.8 4-2.6 5-2.3 15-5.1 21-4.6 10-0.6 5 0.7 6 2.4 7 5 5 5.5 7 11.5 5 9.6 5 11.5 5 13.5 5 17 13 60.2 8 33.1 21 117.1 5 23.4 5 19.9 3 9.6 8 21.5 17 50.9 12 31.4 5 11.3 7 13.6 9 14.7 6 8.4 6 6.4 7 6.1 6 4.1 7 3.6 46 16.2 38 12.7 8 2 21 3.2 26 1.6 30 2.9 39 1.4 52 0.9"/>
<path d="M301 835.7l9 2.6 5 0.4 4-0.3 13-2.4 14-2 18-4.7 10-2.2 6-0.8 13 0 23 4.5 8 0.6 16-0.4 26-3.2 8-1.8 17-5.1 39-13.2 30-6.5 52-13 29-4.9 23-2.5 24-1.3 48-1 4-1 8-3.5 11-4 8-4.9 6-6.3 2-2.9 2-4.4 6-18.1 10-25.9 3-9.8 3-12.1 4-20.5 12-70 12-60.8 6-38.5 5-39.3 4-24.2 7-32.6 5-19.3 4-12.7 10-24.5 6-8.6 5-4.3 8-3.9 15-4.5 22-4.1 9-0.3 5 0.5 6 2.1 7 4.7 5 4.9 7 10.8 6 11 5 11.2 5 13.2 5 16.5 13 58.3 8 32 21 113.5 5 22.6 5 19.2 3 9.4 8 20.8 17 49.3 12 30.5 5 10.9 7 13.1 9 14.3 6 8.1 6 6.2 7 5.9 6 4 7 3.4 41 14.1 42 13.7 9 2.2 21 3.1 26 1.5 30 2.8 40 1.5 51 0.8"/>
<path d="M301 835.9l9 2.6 5 0.4 4-0.3 13-2.3 14-2 18-4.6 10-2.2 6-0.7 13-0.1 23 4.3 8 0.5 16-0.4 25-3.5 8-1.7 18-5.4 39-13.3 31-6.9 51-12.8 28-4.6 23-2.4 24-1.2 49-0.7 4-1 8-3.4 10-3.4 4-1.9 5-3.4 6-6.2 2-2.9 2-4.2 6-17.6 10-25.8 6-21.3 4-19.7 13-74.4 12-59.7 5-31.2 6-44.5 3-17.1 7-31.5 5-18.6 4-12.4 10-23.4 5-7 5-4.4 7-3.3 16-4.2 22-3.5 8-0.3 7 0.6 6 2.2 7 4.6 5 4.8 5 7.4 7 12 5 10.6 5 12.4 6 18.7 13 56.7 8 31.2 21 110 5 22 5 18.7 3 9 8 20.4 17 47.8 12 29.6 5 10.6 7 12.8 9 13.8 6 7.9 6 6 7 5.7 6 3.9 7 3.3 83 27 9 2.1 21 2.9 26 1.5 30 2.8 40 1.4 51 0.9"/>
<path d="M301 836l9 2.6 5 0.4 4-0.2 27-4.2 25-6 10-1.4 12-0.1 27 4.5 15-0.1 9-0.9 22-3.4 6-1.3 22-6.8 36-12.4 35-8 47-11.8 24-3.9 26-2.7 25-1.1 49-0.6 4-0.9 8-3.3 10-3.3 4-1.9 5-3.3 6-6.1 2-2.8 2-4.2 6-17.2 10-25.7 6-20.8 4-18.9 13-73.5 12-58.3 6-36.4 5-36.5 3-16.8 7-30.5 5-17.9 4-12.2 10-22.3 5-6.5 4-3.5 7-3.1 14-3.3 10-1.6 20-1.9 9 0.5 6 1.9 7 4.4 5 4.4 5 6.7 8 13.4 5 10.3 5 12.1 6 18.3 13 55.1 8 30.3 21 107 5 21.4 5 18.2 3 8.8 8 19.7 17 46.6 12 28.8 5 10.3 7 12.4 9 13.4 6 7.7 6 5.8 7 5.6 6 3.7 7 3.2 83 26.3 9 2.1 21 2.8 26 1.4 30 2.7 41 1.4 50 0.9"/>
<path d="M301 836.2l9 2.6 9 0.2 27-4.1 25-6 10-1.3 12-0.1 27 4.3 13-0.2 9-0.8 30-5.2 22-6.8 37-12.8 35-8.1 46-11.6 24-3.7 26-2.6 25-1 49-0.4 4-0.9 8-3.1 10-3.3 4-1.8 5-3.2 6-6.1 2-2.7 2-4.1 6-16.8 10-25.8 6-20.4 4-18.3 14-77.7 12-57.4 5-29.6 5-35.5 3-16.4 7-29.7 6-20.5 3-8.7 10-21.5 5-6.1 4-3.1 6-2.5 14-2.8 10-1.3 20-1.6 9 0.5 6 1.7 7 4 6 5.1 5 6.6 8 13.1 5 10.1 5 11.8 6 17.9 13 53.8 8 29.6 21 104.3 5 20.8 5 17.8 3 8.6 8 19.3 17 45.4 12 28.1 5 10.1 7 12.1 9 13.1 6 7.4 6 5.7 7 5.4 6 3.6 7 3.2 83 25.6 8 1.8 21 2.8 27 1.5 30 2.6 41 1.4 50 0.9"/>
<path d="M301 836.3l9 2.6 9 0.3 27-4 25-5.9 10-1.3 12-0.1 27 4 12-0.1 9-0.8 30-5.4 23-7.1 37-13 37-8.7 44-11.1 24-3.6 25-2.3 25-0.9 50-0.2 4-0.9 18-6.2 4-1.8 5-3.1 6-6 2-2.8 2-4 15-39.3 7-22.9 4-17.7 14-76.7 12-56 5-28.4 5-34.2 3-16.3 6-25.1 6-20.2 4-11.6 10-20.5 5-5.7 4-2.9 6-2 15-2.3 29-2.1 9 0.8 6 1.7 7 4 6 5 5 6.4 8 12.9 5 9.8 5 11.6 6 17.4 13 52.4 8 28.9 21 101.5 5 20.3 5 17.3 3 8.3 8 18.9 17 44.2 12 27.4 5 9.8 7 11.7 9 12.7 6 7.3 6 5.5 7 5.3 6 3.5 6 2.6 83 25.1 9 2.1 21 2.7 27 1.4 30 2.6 42 1.4 49 0.8"/>
<path d="M301 836.4l9 2.7 9 0.2 27-3.8 26-6 9-1.2 12-0.1 27 3.9 11-0.2 9-0.7 31-5.9 23-7.1 38-13.4 37-8.7 43-10.9 24-3.5 25-2.2 25-0.8 50 0 4-0.8 18-6 4-1.8 5-3.1 6-5.9 2-2.7 2-3.9 15-39 7-22.6 5-22.3 14-75.6 12-54.9 5-28.1 5-32.9 2-10.1 6-24.3 10-30.7 10-19.7 5-5.2 4-2.6 6-1.7 16-1.8 27-1.2 10 0.9 6 1.8 7 3.9 6 5 4 4.9 8 12.3 5 9.3 5 11 4 10.1 3 9.3 13 51 8 28.1 21 98.9 5 19.7 5 16.9 3 8.1 8 18.4 17 43.1 12 26.7 5 9.5 7 11.5 9 12.3 6 7.1 6 5.3 7 5.2 6 3.4 6 2.6 83 24.4 9 2 21 2.6 26 1.3 31 2.6 42 1.4 49 0.9"/>
<path d="M301 836.6l9 2.6 9 0.3 27-3.8 26-5.8 9-1.2 12-0.1 27 3.6 11-0.2 9-0.8 31-6.1 23-7.3 38-13.5 80-19.7 23-3.2 25-2.1 25-0.7 51 0.1 4-0.8 18-5.7 4-1.8 5-3 6-5.8 2-2.7 2-3.8 15-38.6 7-22.4 5-21.6 14-74.7 12-53.4 12-68.5 6-23.5 10-29.5 10-18.8 4-4 4-2.6 4-1.3 5-0.6 18-1.2 22-0.2 11 1 6 1.9 7 3.9 5 3.9 5 5.8 8 12 5 9.1 5 10.7 4 9.9 3 9 13 49.7 8 27.3 21 96.1 5 19.2 5 16.3 28 67.8 12 25.9 6 11 6 9.4 9 12 6 6.9 6 5.2 7 4.9 6 3.4 6 2.5 83 23.7 9 2 20 2.4 27 1.3 31 2.5 43 1.5 48 0.8"/>
<path d="M301 836.7l9 2.7 9 0.3 27-3.7 26-5.7 9-1.2 12-0.1 27 3.4 19-1 32-6.6 24-7.6 37-13.3 79-19.7 23-3.1 25-2.1 26-0.6 51 0.4 4-0.8 18-5.6 4-1.7 5-3 6-5.7 2-2.6 2-3.8 15-38.3 7-22.2 5-20.9 15-78.6 8-33.3 4-18.8 11-61.2 6-22.7 10-28.2 10-17.9 4-3.7 4-2.3 4-1.1 23-0.8 20 0.3 11 0.9 6 1.5 6 2.8 8 5.7 5 5.7 8 11.8 5 8.8 5 10.5 4 9.7 3 8.7 13 48.4 8 26.6 21 93.4 5 18.6 5 16 3 7.7 8 17.4 16 38.6 13 27.4 6 10.7 6 9.2 9 11.6 6 6.7 6 5 7 4.9 6 3.2 6 2.4 83 23.1 9 1.9 20 2.4 27 1.2 31 2.4 43 1.5 48 0.8"/>
<path d="M301 836.8l9 2.7 9 0.3 27-3.6 26-5.7 9-1.1 12-0.2 27 3.3 10-0.3 9-0.8 34-7.4 21-6.7 32-11.8 9-2.8 76-18.9 22-2.9 25-2 26-0.6 52 0.5 4-0.7 18-5.5 4-1.6 5-3 6-5.7 4-6.3 14-35.3 8-24.8 5-20.5 15-77.9 12-50.9 11-59.5 6-22.1 8-22.4 3-7 8-13.8 2-2.3 4-3.1 4-1.8 4-0.6 22 0 22 0.7 7 0.8 6 1.1 7 2.9 7 4.6 5 4.7 9 12.6 7 12.2 6 12.9 4 10.4 14 50.5 7 22.5 4 15.6 18 79.3 6 21.6 5 15 10 21.9 17 40 13 26.5 6 10.2 6 8.7 9 11.2 6 6.3 6 4.7 6 4 6 3.2 6 2.3 83 22.7 9 1.8 20 2.3 27 1.2 31 2.4 43 1.4 48 0.9"/>
<path d="M301 836.9l9 2.7 5 0.5 5-0.3 26-3.4 26-5.6 9-1.1 12-0.2 27 3.1 18-1 35-7.8 22-7.1 31-11.5 9-2.9 76-18.9 22-2.9 25-1.8 26-0.5 52 0.6 4-0.7 18-5.2 4-1.7 5-2.9 4-3.5 3-3.4 2-3 2-4.2 14-35.6 8-25.6 5-21.4 14-72.1 9-36.4 8-38.2 5-28.8 3-12.2 4-13.5 10-26.4 9-15.2 3-3 4-2.6 3-1 5-0.5 44 1.9 10 1.5 6 1.9 8 4.6 6 5 8 10.5 6 9.4 9 18.2 6 16.6 12 43 8 25.5 21 89.4 6 21.2 5 14.6 10 21.5 17 39.1 13 26 6 9.9 6 8.6 9 11 6 6.1 12 8.5 6 3.1 6 2.3 29 7.4 54 14.7 9 1.8 20 2.2 27 1.2 31 2.3 43 1.5 48 0.8"/>
<path d="M301 837l9 2.7 5 0.5 5-0.2 26-3.4 26-5.5 9-1.1 12-0.2 27 2.9 18-1.1 36-8.3 21-6.9 31-11.5 9-2.9 76-19 22-2.8 25-1.8 25-0.3 54 0.6 21-5.6 4-1.7 5-2.8 4-3.4 3-3.4 2-3 2-4.2 13-32.6 9-28.3 5-20.8 15-76 8-31.1 5-22.2 8-42.5 3-12 4-13 10-25.3 9-14.6 3-2.8 4-2.3 3-0.9 4-0.2 45 3.1 10 1.5 6 2 8 4.5 6 5 8 10.3 6 9.3 9 17.8 6 16.2 12 42.1 8 24.9 21 87.2 6 20.7 5 14.3 10 21 17 38.2 13 25.4 6 9.7 6 8.3 9 10.7 6 6 12 8.3 6 3 6 2.2 29 7.2 54 14.5 9 1.8 19 2 28 1.2 31 2.3 44 1.5 47 0.8"/>
<path d="M301 837.1l9 2.7 8 0.4 28-3.4 18-3.9 15-2.5 14-0.4 27 2.8 18-1.2 36-8.4 21-7 31-11.6 9-2.9 76-19.1 22-2.7 25-1.7 25-0.2 54 0.7 21-5.5 4-1.6 5-2.8 4-3.4 3-3.4 2-2.9 2-4.1 13-32.5 9-28.2 5-20.5 15-75.4 8-30.6 6-26.3 7-36.8 3-11.7 4-12.7 10-24.5 2-3.7 7-10.4 2-1.9 4-2.4 3-1 4-0.3 46 4 10 1.7 6 2 8 4.5 6 4.9 8 10.2 6 9.2 9 17.5 6 15.9 12 41.3 8 24.5 21 85.7 6 20.3 5 14 10 20.7 17 37.5 13 24.9 6 9.5 6 8.2 9 10.5 6 5.9 12 8.1 6 3 6 2.1 29 7 54 14.3 9 1.8 19 1.9 28 1.2 32 2.3 43 1.4 47 0.8"/>
<path d="M301 837.2l9 2.7 8 0.4 28-3.4 18-3.9 15-2.5 14-0.3 27 2.7 17-1.1 37-8.8 21-6.9 31-11.7 10-3.2 75-18.8 21-2.6 25-1.7 26-0.2 54 0.9 21-5.4 4-1.6 5-2.9 4-3.3 3-3.4 2-2.8 2-4.1 13-32.4 9-28.1 5-20.3 15-74.9 12-46.9 10-49.1 5-16.9 3-8.2 8-18.5 2-3.6 8-11.1 4-2.6 3-1.1 4-0.4 47 4.8 10 1.8 6 2 8 4.5 6 4.8 8 10.1 6 9.1 9 17.3 6 15.7 12 40.7 8 24.1 21 84.3 6 20 5 13.8 10 20.4 17 37 13 24.5 6 9.4 6 8 9 10.4 6 5.7 12 8 6 2.9 6 2.2 29 6.8 54 14.1 9 1.7 19 2 28 1.1 32 2.3 44 1.4 46 0.8"/>
<path d="M301 837.2l9 2.7 8 0.5 28-3.4 24-5 9-1.3 14-0.4 27 2.6 17-1.1 37-8.9 21-6.9 31-11.7 10-3.3 75-18.8 21-2.6 25-1.6 26-0.2 54 1 21-5.3 4-1.6 5-2.8 4-3.4 3-3.3 4-6.9 13-32.3 9-28.1 5-20 15-74.7 12-46.3 4-17.9 6-30.5 5-16.6 3-8 7-16 4-7.2 7-9.4 5-2.8 5-0.9 48 5.4 10 1.7 6 2.1 8 4.5 6 4.8 7 8.7 6 8.7 5 8.7 5 10 6 15.6 12 40.2 8 23.9 21 83.4 6 19.7 5 13.7 10 20.2 17 36.6 13 24.2 6 9.3 6 8 9 10.2 6 5.6 12 8 6 2.9 6 2.1 29 6.7 54 14 9 1.7 19 1.9 28 1.1 32 2.2 44 1.5 46 0.8"/>
<path d="M301 837.3l9 2.7 8 0.5 28-3.3 24-4.9 9-1.3 14-0.4 27 2.4 17-1.1 37-9.2 21-7 31-11.7 10-3.3 75-18.9 21-2.5 25-1.5 26-0.1 54 1.1 21-5.2 4-1.5 5-2.8 4-3.3 3-3.3 4-6.8 13-32.2 9-28 5-19.7 15-73.9 11-41.1 6-26.1 4-20.7 5-17.4 5-12.9 9-18.6 8-10.2 5-2.6 4-0.7 4 0.3 11 2.1 35 4.4 9 1.7 6 2 8 4.5 6 4.8 7 8.5 6 8.6 5 8.5 5 9.9 6 15.2 12 39.4 8 23.4 21 81.5 6 19.3 5 13.4 10 19.8 17 35.7 13 23.8 6 9 6 7.8 9 10 6 5.5 12 7.8 6 2.8 6 2 29 6.6 54 13.7 8 1.5 19 2 29 1.1 32 2.2 44 1.4 46 0.8"/>
<path d="M301 837.4l9 2.8 8 0.4 28-3.1 24-4.9 9-1.3 14-0.4 27 2.3 17-1.3 37-9.4 22-7.4 31-11.9 9-3 75-19 20-2.2 26-1.5 26 0.1 54 1.2 21-4.9 4-1.5 5-2.8 4-3.2 3-3.3 4-6.6 12-29.3 9-27.4 6-22.6 16-77.1 10-35.6 6-24.8 5-24 4-12.6 5-12.2 9-17.5 8-9.5 4-1.8 4-0.7 5 0.5 11 2.6 35 5.3 9 1.8 6 2.1 8 4.5 6 4.7 7 8.3 6 8.4 5 8.3 5 9.6 6 14.8 12 38.3 8 22.6 21 79 6 18.7 5 13 9 17.2 18 36.7 13 23 6 8.8 6 7.6 9 9.6 6 5.4 12 7.5 11 4.4 29 6.3 55 13.6 8 1.5 19 1.8 29 1 32 2.2 44 1.5 46 0.8"/>
<path d="M301 837.5l9 2.8 8 0.5 28-3.1 24-4.7 9-1.3 14-0.4 26 2 17-1.2 6-1.2 32-8.7 22-7.5 31-11.9 10-3.4 73-18.6 20-2.2 26-1.4 26 0.2 55 1.5 21-4.7 4-1.5 5-2.7 4-3.2 3-3.2 4-6.5 10-23.7 5-13.9 6-18.9 7-26.5 15-71.5 11-38.1 5-19.6 5-22.9 3-9.3 5-12.2 10-18.2 8-8.6 4-1.5 4-0.4 5 0.9 11 3.2 41 7.6 9 2.8 8 4.4 6 4.7 7 8.1 6 8.2 5 8.1 5 9.3 6 14.3 12 36.9 8 21.9 21 76.2 6 18.1 5 12.5 9 16.7 18 35.4 13 22.2 6 8.5 6 7.3 9 9.3 6 5.1 12 7.2 11 4.2 29 6.1 54 13 9 1.6 19 1.8 29 0.9 32 2.2 44 1.4 46 0.8"/>
<path d="M301 837.6l9 2.8 8 0.5 27-2.8 26-5 8-1.1 14-0.5 26 1.9 17-1.2 5-1.1 33-9.1 22-7.5 31-12 10-3.4 73-18.7 19-2.1 27-1.3 26 0.3 55 1.6 21-4.5 4-1.5 5-2.6 4-3.2 4-4.4 4-7.3 9-21.3 11-33 7-26.1 15-70.7 11-37.1 5-18.8 5-22 3-9 5-11.6 10-17.1 8-8 4-1.2 3-0.3 5 1 13 4 41 8.4 8 2.7 8 4.5 6 4.7 7 8.1 6 8.1 10 17.2 6 14.3 11 33.1 9 24.4 21 74.2 5 14.7 5 12.6 27 51 13 21.8 6 8.5 6 7.2 9 9.1 6 5.2 12 7.2 6 2.6 6 1.9 30 6 53 12.6 8 1.4 19 1.7 30 1 31 2 45 1.4 46 0.9"/>
<path d="M301 837.7l9 2.8 9 0.5 27-2.9 25-4.8 8-1 14-0.5 26 1.7 17-1.3 5-1.1 33-9.3 22-7.5 31-12.1 10-3.4 73-18.8 19-2 27-1.2 26 0.3 55 1.8 21-4.3 4-1.5 5-2.6 4-3.1 4-4.4 4-7.2 9-21.2 11-33 7-25.7 15-70.1 12-39.5 5-18.5 4-17.2 2-6.2 6-13.7 10-16.1 8-7.4 6-1.1 5 0.9 13 4.6 41 9.1 9 3 7 4 6 4.4 7 7.8 6 7.8 5 7.7 5 8.8 6 13.5 12 35.1 9 23.8 20 69.2 6 17.4 5 12 27 49.8 13 21.2 6 8.1 6 7 9 8.9 6 4.9 12 7 11 4 31 6 53 12.4 8 1.3 18 1.6 30 0.9 32 2 46 1.5 45 0.8"/>
<path d="M301 837.8l9 2.8 9 0.5 27-2.8 25-4.7 8-1 14-0.5 27 1.5 17-1.5 38-10.8 21-7.3 31-12.2 10-3.4 65-17 11-2.3 20-1.7 24-0.8 26 0.5 54 1.9 21-4.2 4-1.5 5-2.5 4-3.1 3-3.1 4-6.3 9-20.4 7-20 7-22.5 4-14.6 17-77.2 11-34.5 5-17.7 4-16.5 2-5.9 6-13.1 10-15 8-6.7 5-0.7 5 0.8 15 5.7 41 9.9 8 2.8 7 4.1 6 4.5 7 7.7 6 7.7 10 16.4 6 13.3 12 34.2 8 20.4 21 70.3 6 16.7 5 11.5 9 15.5 17 31.2 13 20.8 6 8.1 7 7.9 9 8.6 6 4.7 12 6.7 11 3.9 31 5.7 52 11.9 9 1.5 18 1.5 30 0.8 32 2 46 1.5 45 0.8"/>
<path d="M301 837.9l9 2.8 9 0.5 27-2.7 25-4.6 8-1.1 14-0.5 27 1.4 17-1.6 38-11 21-7.3 32-12.6 9-3.1 65-17.1 11-2.3 19-1.6 24-0.7 26 0.5 55 2.1 21-4 4-1.4 5-2.6 4-3 3-3.1 4-6.2 8-17.7 7-19.5 7-22.3 5-17.7 17-76.3 12-36.8 8-29.4 2-5.8 6-12.4 10-14 8-6.1 4-0.5 5 0.8 12 5.2 5 1.7 41 10.6 7 2.7 7 4 6 4.6 7 7.7 6 7.6 10 16.2 6 13.3 11 30.7 9 22.5 20 65.5 6 16.6 5 11.6 26 45.7 14 21.9 6 7.8 6 6.7 8 7.6 7 5.6 12 6.6 11 3.9 32 5.7 52 11.7 8 1.3 18 1.5 31 0.8 32 2 46 1.4 45 0.8"/>
<path d="M301 838l9 2.9 9 0.5 26-2.5 26-4.7 8-1.1 14-0.5 27 1.2 17-1.6 38-11.3 21-7.4 32-12.6 10-3.5 64-16.8 11-2.3 19-1.5 24-0.6 81 2.8 21-3.8 4-1.4 5-2.5 6-5 4-5.3 9-19.4 6-16.6 9-28.6 5-18.2 16-71.4 13-38.7 8-27.9 3-6.9 4-7.3 10-12.9 7-5 2-0.7 2 0 6 1.2 11 5.2 6 2.3 21 6.1 20 5.3 7 2.7 7 4.1 6 4.6 12 13.8 10 15.5 6 12.5 12 32.4 9 22 20 63.7 6 15.9 5 11.1 26 44.4 14 21.1 6 7.6 6 6.4 8 7.3 7 5.4 12 6.3 11 3.7 32 5.5 52 11.4 8 1.3 17 1.3 31 0.8 33 1.9 46 1.5 45 0.8"/>
<path d="M301 838.1l9 2.9 10 0.5 26-2.6 25-4.5 8-1 14-0.5 27 1.1 17-1.8 16-5.1 18-5.1 19-6.5 39-15.4 9-3.1 53-14 22-5.1 19-1.4 24-0.6 81 3.1 21-3.6 4-1.4 5-2.4 6-4.9 4-5.3 9-19.2 5-13.7 10-31.6 5-17.9 16-70.5 14-40.3 7-23.4 5-10.3 4-5.6 9-9.9 6-3.5 2-0.6 7 1.3 13 6.6 6 2.3 21 6.6 20 5.6 6 2.5 7 4.2 5 3.8 7 7.2 6 7.3 10 15.3 6 12.4 12 31.4 9 21.5 21 64.4 5 12.4 5 10.6 26 43 13 19.1 6 7.4 6 6.3 8 7.2 7 5.3 12 6.3 12 3.9 32 5.2 51 11 8 1.2 17 1.4 32 0.7 32 1.8 47 1.5 45 0.8"/>
<path d="M301 838.2l9 2.9 10 0.5 26-2.5 25-4.4 8-1 14-0.6 27 1 17-1.9 16-5.2 18-5.2 19-6.6 39-15.4 9-3.1 68-17.9 7-1.3 18-1.3 24-0.5 82 3.4 21-3.5 4-1.3 5-2.4 5-3.9 5-6.2 9-19 5-13.7 10-31.8 5-17.7 16-69.6 14-38.8 7-22.1 5-9.7 4-5.2 9-8.9 6-2.9 2-0.5 7 1.8 13 7.2 6 2.4 21 7.1 20 5.9 6 2.5 7 4.2 5 3.9 7 7.2 6 7.1 10 15.1 6 12.3 11 28.1 9 20.7 20 59.6 6 15.1 5 10.6 26 41.9 14 20 6 7.1 7 7.1 8 6.7 6 4.3 12 6 11 3.5 33 5.1 51 10.8 8 1.2 17 1.3 31 0.6 33 1.8 48 1.5 44 0.8"/>
<path d="M301 838.3l9 2.9 10 0.5 26-2.4 25-4.3 8-1 14-0.6 27 0.8 17-1.9 16-5.4 18-5.3 20-7 38-15.1 9-3.2 52-13.9 22-5.2 18-1.3 25-0.4 82 3.6 20-3.1 5-1.5 5-2.4 5-3.8 5-6.1 9-18.8 4-11 11-34.7 5-17.5 16-68.8 15-40.2 6-18.1 5-9.2 4-4.8 9-7.9 6-2.4 2-0.3 7 2.2 12 7.1 6 2.8 22 7.9 20 6.1 6 2.6 7 4.3 5 3.9 12 12.9 10 14.4 6 11.6 12 29.6 9 20.2 20 57.9 6 14.5 5 10.1 26 40.7 13 18.1 6 7 7 7 7 5.9 7 5 12 5.9 12 3.8 34 5 49 10.2 8 1.2 17 1.3 32 0.6 33 1.8 48 1.4 44 0.8"/>
<path d="M301 838.4l9 2.9 10 0.5 25-2.1 34-5.4 15-0.6 26 0.6 17-2 16-5.5 19-5.7 20-7.1 46-18 52-14 22-5.2 17-1.2 25-0.4 83 3.9 20-2.9 5-1.5 5-2.3 5-3.8 5-6 6-11.9 5-12 5-14.8 13-43.1 16-67.8 2-6 13-32.5 6-16.9 5-8.6 4-4.3 9-6.7 7-2.1 4 1 4 1.7 12 7.8 7 3.4 21 7.9 20 6.5 6 2.6 6 3.7 5 3.7 7 6.8 6 6.8 10 14.2 6 11.4 12 28.7 8 17.1 21 58.4 5 11.7 5 10 26 39.6 13 17.6 6 6.9 7 6.9 7 5.7 7 4.9 12 5.9 12 3.7 35 5 49 9.9 8 1.2 16 1.1 33 0.6 33 1.7 48 1.5 44 0.8"/>
<path d="M301 838.5l9 2.9 10 0.6 25-2.2 34-5.2 15-0.7 25 0.5 17-1.8 5-1.4 13-4.9 18-5.4 20-7.1 46-18.2 52-14 22-5.2 17-1.1 25-0.3 83 4.1 20-2.7 5-1.5 5-2.3 5-3.7 5-5.9 6-11.8 5-12 5-14.9 13-43 16-67 2-5.9 13-31.2 6-16 4-6.8 4-4.4 10-6.5 7-1.6 7 2.7 13 8.7 7 3.6 21 8.3 20 6.7 6 2.8 6 3.6 5 3.7 7 6.8 6 6.7 10 14 6 11.3 11 25.6 9 19 20 54.2 6 13.7 5 9.6 26 38.5 13 17 6 6.7 7 6.6 7 5.5 7 4.8 12 5.6 12 3.5 35 4.8 49 9.7 8 1.1 17 1.1 31 0.5 30 1.5 35 1.2 61 1.2"/>
<path d="M301 838.6l9 2.9 11 0.5 25-2.1 32-5 16-0.8 25 0.4 17-1.9 5-1.4 12-4.6 18-5.6 21-7.4 38-15.4 9-3.2 51-13.8 22-5.2 17-1.1 25-0.1 83 4.4 20-2.6 5-1.5 5-2.2 5-3.7 5-5.9 5-9.5 5-11.3 5-14.6 14-46.1 16-66.1 3-8.3 12-27.3 6-14.8 4-6.3 4-3.9 10-5.3 7-0.9 7 3.1 13 9.3 6 3.3 21 8.9 21 7.4 6 2.8 6 3.6 5 3.8 8 7.7 5 5.6 9 12.2 6 10.6 12 26.9 9 18.4 21 54.7 5 10.7 5 9.2 26 37.1 13 16.4 6 6.4 6 5.5 7 5.4 7 4.7 12 5.5 12 3.6 8 1.3 28 3.3 48 9.3 8 1.2 17 1.1 32 0.4 68 2.7 58 1.2"/>
<path d="M301 838.7l9 2.9 11 0.6 25-2.1 32-4.9 16-0.8 25 0.3 17-2.1 5-1.4 12-4.7 18-5.7 22-7.8 37-15.1 9-3.3 51-13.8 22-5.2 17-1 25-0.1 83 4.7 20-2.4 5-1.4 5-2.3 5-3.6 5-5.8 6-11.5 5-11.9 18-58.1 15-61.5 2-6.7 3-7.3 17-37.4 2-3.4 3-3.5 3-2.3 10-4 2-0.4 5 0.1 4 1.8 5 3.2 12 9.2 7 3.8 19 8.3 21 7.7 6 2.9 10 6.6 13 12.8 10 13.1 6 10.5 12 26 8 15.5 21 52.7 5 10.6 5 9.1 26 36.1 13 15.9 6 6.3 7 6.2 7 5.2 7 4.5 12 5.2 12 3.4 8 1.2 28 3.2 48 9 8 1.1 16 1 33 0.4 72 2.8 54 1"/>
<path d="M301 838.8l9 2.9 11 0.6 25-2 32-4.9 16-0.8 25 0.2 17-2.1 6-1.8 11-4.5 18-5.7 22-7.9 37-15.2 9-3.3 51-13.9 22-5.1 16-1 25 0 84 4.9 20-2.3 5-1.4 5-2.1 5-3.7 5-5.7 6-11.3 5-11.9 18-58.2 15-60.9 2-6.6 3-7.2 17-35.4 2-3.2 3-3.2 3-2 12-3.3 5 0.6 4 2 5 3.4 11 8.9 8 4.7 20 9.1 20 7.5 6 2.9 10 6.6 13 12.7 9 11.4 6 9.8 12 25.3 9 17.2 20 48.8 6 12.4 5 8.8 26 35 13 15.4 6 6.1 6 5.2 7 5.2 7 4.3 13 5.6 12 3.2 36 4.2 48 8.9 8 1.1 15 0.9 34 0.3 74 2.8 52 1"/>
<path d="M301 838.9l9 2.9 11 0.6 25-2 32-4.7 16-0.9 25 0 17-2.1 5-1.4 13-5.3 17-5.5 23-8.3 36-14.9 9-3.3 51-13.9 22-5.2 16-0.9 25 0.1 84 5.1 20-2.1 5-1.4 5-2.1 5-3.6 5-5.6 5-9.2 5-11.2 5-14.9 14-46.2 15-60.2 2-6.5 3-7 16-31.6 3-5 3-2.8 3-1.8 11-2.1 6 1 2 1 6 4.1 12 10.1 8 4.8 20 9.5 20 7.8 7 3.5 9 6.1 13 12.4 9 11.3 6 9.7 12 24.5 9 16.8 21 49.5 5 9.8 5 8.3 25 32.8 13 15.1 6 6 6 5.1 7 5.1 7 4.4 12 5.2 13 3.5 8 1.2 29 2.9 48 8.7 8 1.1 18 0.9 32 0.2 76 2.8 49 0.9"/>
<path d="M301 838.9l5 1.9 5 1.3 11 0.4 24-1.9 32-4.7 16-0.8 25-0.2 17-2.1 5-1.5 13-5.4 17-5.6 23-8.3 45-18.3 50-13.7 16-4.1 7-1.3 16-0.9 25 0.2 84 5.4 20-2 5-1.4 5-2.1 5-3.5 5-5.6 5-9.1 5-11.1 5-15 14-46.3 15-59.4 2-6.4 3-6.9 16-29.7 3-4.6 3-2.5 3-1.4 7-0.3 4-0.6 6 1.5 2 1.1 6 4.5 12 10.5 7 4.5 20 9.9 21 8.5 8 4.2 8 5.5 13 12.3 9 11 6 9.6 12 23.7 8 14.2 21 47.8 5 9.6 5 8.4 26 33.1 13 14.5 12 10.7 7 5 7 4.1 13 5.3 12 3 8 1.2 29 2.7 47 8.3 9 1.2 18 0.9 32 0.1 78 2.8 47 0.9"/>
<path d="M301 839l5 1.9 5 1.3 11 0.4 24-1.8 32-4.6 16-0.9 25-0.3 17-2.2 5-1.5 13-5.5 18-6 23-8.4 44-18 50-13.8 16-4.1 7-1.3 16-0.8 24 0.3 85 5.6 20-1.9 5-1.3 5-2.1 5-3.5 5-5.5 5-8.9 5-11.2 5-15 15-49.8 13-51.5 4-12.5 7-13.7 13-21.4 4-3.4 2-0.8 3-0.4 5 0.7 5-0.1 6 2.4 7 5.6 11 10.1 5 3.7 23 12.1 21 8.8 6 3 9 5.9 13 11.8 10 11.9 6 9.5 11 21 9 15.7 20 44 6 11.2 5 8 25 30.8 13 14.2 12 10.5 7 4.8 7 4.1 12 4.9 13 3.4 9 1.2 29 2.5 47 8.2 8 1 15 0.8 34 0.2 76 2.7 51 0.9"/>
<path d="M301 839.1l5 1.9 5 1.2 11 0.5 24-1.7 32-4.6 16-0.9 25-0.4 17-2.3 5-1.5 13-5.6 41-14.5 44-18.1 50-13.8 16-4.1 7-1.3 15-0.7 25 0.3 85 5.8 20-1.7 5-1.3 5-2.1 5-3.4 5-5.5 5-8.8 5-11.1 5-15.1 15-49.9 13-50.8 4-12.4 7-13.3 12-18.5 2-2.3 4-2.3 3-0.4 6 1.3 5 0.4 6 2.9 6 5 12 11.5 5 3.8 23 12.5 21 9 6 3.1 9 5.9 13 11.7 9 10.3 6 8.9 12 22.1 9 15.2 21 44.5 5 8.8 5 7.6 25 29.8 12 12.7 6 5.6 7 5.5 13 8.1 13 5.1 13 3.2 9 1.2 29 2.4 47 8 8 1 18 0.8 32 0 76 2.7 50 0.9"/>
<path d="M301 839.2l9 3 12 0.6 24-1.7 32-4.5 16-0.9 25-0.5 16-2.1 6-1.8 13-5.7 41-14.6 44-18.2 50-13.9 22-5.3 15-0.7 25 0.3 86 6.1 20-1.6 5-1.2 5-2 5-3.5 5-5.3 5-8.8 5-11 5-15.2 15-50 13-50.2 4-12.2 7-12.8 11-15.6 4-4 3-1.1 2-0.2 12 3 5 2.8 7 6 12 12 6 4.6 23 12.8 20 8.8 6 3.1 9 5.9 13 11.5 9 10.1 6 8.7 12 21.4 8 12.8 21 42.7 5 8.7 5 7.5 25 29 12 12.3 6 5.5 7 5.4 13 7.9 5 2.3 8 2.8 13 3.2 10 1.3 29 2.1 47 7.8 8 1 18 0.7 32 0 77 2.6 49 1"/>
<path d="M301 839.3l6 2.2 4 0.9 12 0.5 23-1.6 31-4.3 17-1.1 25-0.6 16-2.2 6-1.8 13-5.8 42-15.1 43-17.9 50-14 22-5.2 15-0.8 25 0.5 86 6.3 20-1.4 5-1.2 5-2 5-3.4 5-5.3 5-8.6 5-11.1 4-12 16-53.4 13-49.4 4-12.1 6-10.8 10-13.5 5-5 3-1.3 2-0.2 3 0.6 5 2.4 6 2.1 5 3.4 18 18.2 6 4.8 23 13.2 20 9.1 8 4.3 7 4.7 13 11.2 9 10 6 8.5 11 18.9 10 15.9 20 39.2 10 15.4 25 27.9 12 11.8 12 9.7 13 7.8 6 2.6 7 2.4 14 3.3 9 1.1 30 2.1 46 7.4 9 1.1 17 0.7 33-0.1 78 2.6 48 0.9"/>
<path d="M301 839.4l6 2.2 4 0.9 12 0.5 23-1.5 31-4.3 17-1 25-0.8 16-2.2 6-1.9 13-5.9 42-15.2 43-18 50-14 22-5.2 15-0.7 25 0.5 86 6.6 20-1.3 5-1.2 5-2 5-3.3 5-5.3 5-8.5 5-11.1 4-12 16-53.5 13-48.9 4-11.9 7-11.9 9-11 5-4.3 4-0.9 5 1.4 5 3 4 1.5 5 3.6 19 19.9 7 5.6 22 13 20 9.2 8 4.3 7 4.8 13 11 8 8.6 6 7.9 12 19.8 9 13.6 21 39.5 10 14.7 25 26.9 11 10.4 7 5.9 6 4.3 13 7.5 12 4.4 14 3.3 10 1.2 30 1.9 46 7.3 9 1 17 0.6 33-0.1 78 2.6 48 0.9"/>
<path d="M301 839.4l6 2.3 4 0.9 12 0.5 23-1.5 32-4.2 42-2 15-2.2 6-1.9 13-5.9 43-15.7 42-17.8 50-14 22-5.3 14-0.6 25 0.5 87 6.9 20-1.2 5-1.2 5-1.9 5-3.3 5-5.2 5-8.4 5-11 4-12.2 17-57 12-44.9 3-9.5 5-9.3 6-8 8-8 3-1.9 3-0.6 2 0.2 3 1.2 6 4.1 5 2.7 6 5.3 17 18.8 7 5.8 22 13.3 20 9.5 9 4.9 6 4.1 13 10.9 8 8.3 6 7.8 12 19.1 9 13.2 20 36.1 10 14.5 25 26.1 11 10.2 13 10 13 7.3 13 4.7 14 3.1 10 1.1 30 1.7 46 7.1 9 1 17 0.6 33-0.2 79 2.6 47 0.8"/>
<path d="M301 839.5l6 2.3 4 0.9 12 0.5 23-1.4 32-4.2 42-2.1 14-2 7-2.2 14-6.4 41-15.1 44-18.6 49-13.7 22-5.2 14-0.6 25 0.6 87 7.1 20-1 5-1.2 5-1.9 5-3.2 5-5.2 5-8.3 5-11 21-69.4 12-44.3 3-9.3 5-9.1 5-6.4 7-6.7 4-2.3 3-0.7 3 0.5 3 1.5 6 4.9 5 3.3 5 4.7 18 20.7 7 6 23 14.3 22 10.7 7 4 11 8.2 8 6.9 11 11.9 14 21.1 7 9.6 22 37.6 10 13.8 24 24 11 9.9 13 9.7 13 7.1 13 4.6 14 3 11 1.2 30 1.5 54 7.9 17 0.5 34-0.2 80 2.6 46 0.8"/>
<path d="M301 839.6l6 2.3 4 0.9 13 0.5 22-1.3 32-4.2 42-2.2 14-2.1 7-2.2 14-6.5 42-15.6 43-18.3 49-13.8 22-5.2 14-0.5 25 0.7 87 7.3 20-0.8 5-1.2 5-1.8 5-3.3 5-5 5-8.3 5-11 21-69.6 12-43.7 3-9.2 5-8.8 5-6 7-5.9 3-1.4 3-0.7 3 0.5 3 1.6 12 10 5 5.2 18 21.5 7 6.2 23 14.7 22 11 7 4 12 8.8 7 6 11 11.7 13 18.8 8 10.6 21 34.4 6 8.5 5 6.1 23 22.1 9 8 13 9.7 7 4.3 7 3.5 12 4.4 16 3.6 11 1.2 31 1.4 45 6.6 9 1 17 0.5 34-0.3 81 2.5 45 0.8"/>
<path d="M301 839.7l6 2.2 4 1 13 0.5 22-1.3 32-4 42-2.4 14-2.2 7-2.2 14-6.6 42-15.6 43-18.4 48-13.6 23-5.5 14-0.5 25 0.8 87 7.5 20-0.7 5-1.1 5-1.8 5-3.2 5-5.1 5-8.2 5-10.9 21-69.8 12-43.2 3-9.1 5-8.6 5-5.7 7-5.2 3-1 3-0.3 3 0.8 3 1.8 12 11.2 5 5.6 17 21.1 4 4.2 4 3.3 23 15.1 22 11.1 8 4.7 12 8.8 7 6 10 10.5 13 18.2 8 10.2 21 33.1 10 12.8 22 20.6 10 8.6 14 10.1 13 7.1 12 4.3 17 3.7 11 1.1 31 1.2 45 6.5 9 1 16 0.4 35-0.3 81 2.5 45 0.8"/>
<path d="M301 839.7l6 2.3 4 1 7 0.5 7 0 21-1.2 32-4 41-2.4 15-2.3 7-2.2 14-6.8 43-16.1 42-18.1 48-13.6 23-5.5 14-0.5 24 0.9 88 7.8 20-0.7 5-1 5-1.8 5-3.2 5-5 5-8.1 5-10.9 22-73.5 11-39.3 3-8.9 4-6.9 5-6 8-5.3 4-0.6 3 0.4 2 0.9 6 5 4 4.7 5 4.9 22 27.9 4 4.2 4 3.4 23 15.5 10 5.5 12 5.8 8 4.7 12 8.7 8 6.7 9 9.4 13 17.4 8 9.8 21 31.6 10 12.1 22 19.8 10 8.3 13 9 13 6.9 12 4.3 17 3.6 12 1.2 31 1 45 6.4 9 0.9 16 0.4 36-0.4 81 2.5 44 0.8"/>
<path d="M301 839.8l6 2.3 4 0.9 7 0.6 8-0.1 20-1.1 31-3.9 42-2.5 15-2.4 6-1.8 16-7.6 42-15.9 42-18.2 48-13.6 23-5.5 13-0.4 25 0.9 88 8 20-0.5 5-1.1 5-1.8 5-3.1 5-4.9 5-8.1 5-10.9 22-73.6 11-38.9 3-8.8 4-6.7 4-4.9 5-3.5 4-2 2-0.2 3 0.3 3 1 3 2.1 3 2.9 10 11.5 22 29 4 4.3 4 3.5 12 8.6 12 7.8 22 11.5 8 4.7 12 8.7 7 5.9 8 7.9 14 17.9 7 8.3 22 31.5 10 11.6 21 18.2 10 8.1 13 8.8 13 6.8 12 4.2 18 3.7 12 1.1 31 0.9 45 6.2 9 0.8 16 0.4 36-0.4 81 2.4 44 0.8"/>
<path d="M301 839.9l6 2.3 4 0.9 8 0.7 27-1.2 31-3.8 42-2.7 14-2.2 6-1.7 15-7.3 44-16.8 42-18.3 13-4 35-9.7 23-5.4 13-0.5 25 1.1 88 8.2 20-0.4 5-1 5-1.7 6-4 5-5.3 5-8.6 4-8.9 4-12.5 29-99.8 3-8.6 4-6.5 4-4.6 4-2.6 6-2 4 1 3 1.4 5 4.6 11 13.9 20 27.8 4 4.9 4 4 7 5.6 16 11.1 10 5.9 21 11.2 12 8.2 7 5.4 10 9.4 13 15.9 8 9 21 28.4 10 11.2 21 17.5 10 7.7 13 8.5 12 6.1 13 4.5 18 3.6 13 1.1 31 0.7 53 6.8 16 0.4 37-0.5 82 2.4 43 0.8"/>
<path d="M301 839.9l7 2.6 7 1.1 8 0.2 16-0.6 10-0.8 27-3.4 43-2.9 14-2.2 7-2.1 17-8.2 41-15.6 42-18.4 13-4 35-9.7 23-5.5 13-0.4 25 1.1 88 8.4 20-0.3 4-0.7 6-2 5-3.1 5-4.8 4-6.1 5-10 5-15.2 7-25.2 22-74.4 3-8.5 4-6.4 4-4.4 4-2.3 6-1.7 4 1.4 3 1.7 5 5 11 14.7 19 27.3 5 6.3 4 4 8 6.4 16 11.2 10 6 21 11.2 18 12.9 10 9.1 13 15.4 8 8.7 21 27.5 10 10.7 21 17 10 7.4 13 8.2 11 5.5 13 4.5 19 3.6 13 1.1 31 0.6 53 6.7 16 0.3 37-0.5 82 2.4 43 0.8"/>
<path d="M301 840l7 2.6 7 1 8 0.3 17-0.7 36-4.1 43-2.9 14-2.3 7-2.1 17-8.2 41-15.7 42-18.4 13-4.1 35-9.6 23-5.5 13-0.4 25 1.2 88 8.4 20-0.2 4-0.7 6-2 5-3.1 5-4.8 4-6 5-10.1 5-15.2 7-25.2 22-74.3 3-8.4 4-6.3 4-4.3 3-1.8 6-1.8 2 0.3 5 2.5 5 4.7 12 16.4 19 27.8 5 6.4 5 4.9 7 5.6 16 11.3 10 6 21 11.3 18 12.7 10 9 21 23.6 21 26.8 10 10.6 30 23.2 13 8.1 11 5.5 13 4.6 19 3.6 14 1.2 31 0.5 53 6.6 15 0.3 38-0.5 82 2.4 43 0.7"/>
<path d="M301 840l7 2.6 7 1.1 8 0.2 17-0.7 36-4 43-3 14-2.2 7-2.2 17-8.3 41-15.7 42-18.4 13-4.1 35-9.7 23-5.4 13-0.4 24 1.1 89 8.6 20-0.1 4-0.8 6-1.9 5-3.1 5-4.8 4-6 5-10 5-15.2 7-25.4 22-74 3-8.4 4-6.2 4-4.2 3-1.7 6-1.6 2 0.4 5 2.8 5 4.9 12 17 18 26.9 6 7.8 5 5 8 6.4 16 11.3 9 5.4 21 11.3 18 12.6 10 8.9 21 23.2 21 26.1 10 10.3 30 22.7 13 7.9 11 5.4 13 4.5 19 3.6 14 1.1 31 0.4 53 6.5 15 0.3 38-0.5 82 2.4 43 0.7"/>
<path d="M301 840l7 2.6 7 1.1 8 0.3 17-0.7 36-4 43-3.1 14-2.2 7-2.2 17-8.3 42-16.2 41-18 13-4.1 35-9.7 23-5.5 13-0.3 24 1.1 89 8.7 20-0.1 4-0.7 6-1.9 5-3.1 5-4.7 4-6 5-10 5-15.3 7-25.4 22-73.9 3-8.3 4-6.1 4-4.1 3-1.7 6-1.3 2 0.6 5 3 5 5.2 28 42.1 7 9.5 6 6.3 8 6.4 16 11.4 10 6 20 10.8 18 12.4 9 7.8 21 22.6 21 25.5 10 10.2 20 15.4 11 7.8 12 7.2 11 5.3 13 4.6 20 3.7 14 1.1 31 0.3 53 6.5 15 0.3 39-0.6 81 2.3 43 0.8"/>
<path d="M301 840.1l7 2.6 7 1 8 0.3 17-0.6 35-3.9 44-3.2 14-2.3 7-2.2 17-8.4 42-16.2 41-18 13-4.1 35-9.7 23-5.5 13-0.3 24 1.1 89 8.9 20-0.1 4-0.7 6-2 5-3 5-4.7 4-6 5-10 5-15.3 7-25.4 22-73.8 3-8.2 4-6 4-4.1 3-1.5 6-1 2 0.6 5 3.4 5 5.3 28 43.1 7 9.6 6 6.4 11 8.7 14 9.9 9 5.5 20 10.7 18 12.3 9 7.7 21 22.1 21 24.9 10 10 30 22 12 7.1 11 5.4 14 4.8 19 3.5 14 1.1 32 0.4 53 6.3 15 0.3 39-0.6 124 3.1"/>
<path d="M301 840.1l7 2.6 7 1.1 8 0.3 17-0.7 35-3.8 44-3.3 14-2.3 7-2.2 17-8.4 42-16.2 41-18.2 13-4.1 35-9.7 23-5.4 13-0.3 24 1.2 67 7 23 1.9 19 0 4-0.8 6-1.9 5-3 5-4.7 4-5.9 5-10 5-15.4 7-25.5 22-73.5 3-8.2 4-5.9 4-4 4-1.7 5-0.5 2 0.7 5 3.7 4 4.3 5 7.2 24 38.2 8 10.9 6 6.1 12 9.4 12 8.5 9 5.5 20 10.8 18 12.1 9 7.6 21 21.6 21 24.3 10 9.7 30 21.6 12 6.9 11 5.2 14 4.8 19 3.3 14 1.1 32 0.3 53 6.2 15 0.3 39-0.6 124 3.1"/>
<path d="M301 840.1l7 2.6 7 1.1 8 0.3 17-0.6 35-3.8 44-3.4 14-2.3 7-2.2 17-8.4 42-16.3 41-18.2 13-4.1 35-9.7 23-5.5 13-0.3 24 1.3 66 7 24 2 19 0 4-0.7 6-1.9 5-3 5-4.7 4-5.9 5-9.9 5-15.4 7-25.6 22-73.4 3-8.1 4-5.9 4-3.8 4-1.6 5-0.3 2 0.8 5 4 4 4.5 5 7.4 23 37.5 8 11.3 7 7.4 13 10.2 12 8.6 9 5.4 19 10.2 18 12.1 9 7.4 21 21.1 21 23.7 10 9.4 30 21.1 12 6.8 10 4.7 14 4.8 20 3.5 14 1 32 0.2 53 6.2 15 0.2 39-0.6 124 3.1"/>
<path d="M301 840.2l7 2.6 7 1.1 8 0.3 17-0.7 35-3.7 44-3.4 14-2.3 7-2.2 17-8.6 42-16.3 41-18.2 13-4.1 35-9.7 16-4.1 7-1.4 13-0.3 24 1.3 66 7 24 2.1 19 0.1 4-0.7 6-1.9 5-3 5-4.7 4-5.9 5-9.9 5-15.4 7-25.6 22-73.3 3-8.1 4-5.7 4-3.7 3-1.3 5-0.3 2 0.3 2 1.4 5 4.5 3 3.7 4 6 16 27.3 8 12.7 8 11.4 7 7.4 13 10.4 12 8.5 9 5.5 20 10.9 13 8.4 9 6.8 5 4.4 21 20.7 21 23 11 9.7 28 19.1 11 6.1 10 4.6 8 3.1 7 2 19 3.3 15 1.1 32 0.1 53 6.1 15 0.3 39-0.7 124 3"/>
<path d="M301 840.2l7 2.6 7 1.1 8 0.3 18-0.6 34-3.8 44-3.4 14-2.3 7-2.2 17-8.6 42-16.4 41-18.2 13-4.1 35-9.8 16-4.1 7-1.3 13-0.3 24 1.3 66 7.1 24 2.1 19 0.1 4-0.6 6-1.9 5-3 5-4.6 4-5.9 5-9.9 5-15.5 7-25.7 22-73.1 3-8 3-4.4 4-4.2 3-1.6 4-0.4 3 0.1 2 1 6 5.6 2 2.5 5 7.5 16 28 8 12.9 9 12.8 7 7.1 13 10.3 11 7.9 9 5.6 20 10.8 13 8.3 9 6.7 26 24.5 21 22.4 10 8.7 28 18.8 11 6 10 4.7 15 5.1 20 3.4 15 1.1 32 0 53 6.1 14 0.2 40-0.7 124 3"/>
<path d="M301 840.2l7 2.6 7 1.1 8 0.4 17-0.6 35-3.8 43-3.3 14-2.3 7-2 15-7.8 44-17.2 42-18.7 13-4.2 35-9.7 16-4.1 7-1.4 13-0.2 24 1.3 66 7.2 24 2.2 19 0.1 4-0.7 6-1.8 5-3 5-4.6 4-5.9 5-9.9 5-15.4 11-39.4 20-65.1 2-3.9 5-5.9 3-2 4-0.7 4 0.3 2 1.1 6 6 2 2.5 5 7.8 16 28.7 8 13.1 9 12.8 7 7.3 14 11.1 11 7.9 9 5.5 19 10.3 13 8.2 9 6.5 26 24 21 21.7 10 8.5 28 18.4 10 5.3 10 4.7 8 3 8 2.4 19 3.1 16 1.2 32-0.1 52 5.9 15 0.3 41-0.7 123 3"/>
<path d="M301 840.2l7 2.7 7 1.1 8 0.3 18-0.6 33-3.6 44-3.5 14-2.3 7-2 15-7.8 44-17.3 42-18.7 13-4.2 35-9.7 16-4.2 7-1.3 13-0.2 24 1.3 65 7.2 25 2.3 19 0.2 4-0.7 6-1.9 5-2.9 5-4.6 4-5.8 5-9.9 5-15.5 10-36.1 20-65.6 2-4.8 5-6.6 3-2.4 4-1 4 0.3 2 0.7 8 8.3 6 9.4 16 29.4 7 11.6 10 14.6 7 7.3 14 11.2 11 8 9 5.5 19 10.3 13 8.1 9 6.5 26 23.4 21 21.1 10 8.2 28 17.9 19 9.3 8 3.1 8 2.4 20 3.3 16 1.1 32-0.2 52 5.9 15 0.2 41-0.7 123 3"/>
<path d="M301 840.3l7 2.6 7 1.1 8 0.3 18-0.6 33-3.5 44-3.6 14-2.2 7-2.1 16-8.3 43-16.9 42-18.8 13-4.1 35-9.8 16-4.1 7-1.3 12-0.3 24 1.4 66 7.3 25 2.3 19 0.2 4-0.6 6-1.9 5-2.9 5-4.6 4-5.8 5-9.8 5-15.6 11-39.5 19-62.1 2-4.8 5-6.4 3-2.3 4-0.9 4 0.5 2 0.7 8 8.8 6 9.6 15 28.3 8 13.6 10 14.8 8 8.2 14 11.2 11 7.9 8 5 19 10.3 13 7.9 9 6.4 26 22.9 20 19.5 10 8.2 28 17.6 19 9.2 9 3.4 8 2.3 19 3.1 17 1.1 32-0.1 52 5.7 14 0.3 42-0.8 123 3"/>
<path d="M301 840.3l7 2.7 7 1.1 8 0.3 18-0.5 33-3.5 44-3.7 14-2.3 7-2.1 16-8.3 43-17 42-18.9 13-4.2 35-9.7 16-4.1 7-1.4 12-0.2 24 1.4 66 7.5 25 2.3 19 0.4 4-0.7 6-1.8 5-2.9 5-4.6 4-5.7 5-9.8 5-15.6 11-39.7 19-61.8 2-4.7 4-5.2 4-3.2 3-0.7 5 0.8 2 1 8 9.5 6 10.2 15 29.6 8 13.9 10 15 8 8.4 15 12.2 11 7.9 36 20.6 13 8.7 24 20.2 21 19.3 10 7.7 27 16.3 18 8.5 9 3.3 9 2.6 19 3 18 1.2 32-0.3 52 5.6 14 0.2 42-0.8 123 2.9"/>
<path d="M301 840.4l7 2.6 7 1.1 8 0.4 18-0.5 33-3.4 44-3.8 14-2.4 7-2.1 16-8.4 43-17.1 42-18.9 13-4.2 35-9.8 16-4.1 7-1.4 12-0.2 24 1.5 65 7.5 26 2.5 19 0.5 4-0.7 6-1.7 5-2.9 5-4.5 4-5.7 5-9.8 5-15.7 11-39.9 19-61.4 2-4.6 4-5 4-2.9 3-0.6 4 0.9 3 1.5 7 9 7 12.2 14 29.1 8 14.6 11 16.9 4 4.7 5 4.8 15 12.3 11 7.9 35 19.8 13 8.4 24 19.1 20 17.1 9 6.8 27 15.6 16 7.5 11 4.1 9 2.6 19 3 19 1.3 33-0.5 52 5.5 14 0.1 43-0.8 122 2.9"/>
<path d="M301 840.5l7 2.6 7 1.1 8 0.4 18-0.5 76-7.1 15-2.5 7-2.1 16-8.6 44-17.6 41-18.6 14-4.5 34-9.5 16-4.1 7-1.3 12-0.2 24 1.6 65 7.6 27 2.6 18 0.5 4-0.6 6-1.8 5-2.8 5-4.5 4-5.6 5-9.8 5-15.7 12-43.5 18-57.6 2-4.6 3-3.7 4-3.4 3-0.9 4 0.9 4 2.1 7 9.9 7 12.9 14 30.4 8 15.1 11 17.3 4 4.7 5 4.9 15 12.5 12 8.7 7 4.3 29 15.9 12 7.6 23 17.3 20 15.8 8 5.6 24 13.4 14 6.7 15 5.5 12 3.4 13 1.9 15 1.4 11 0.4 22-0.8 9 0.1 44 4.7 11 0.8 54-0.9 122 2.9"/>
<path d="M301 840.5l7 2.7 7 1.1 8 0.4 18-0.5 76-7.1 15-2.6 7-2.1 17-9.1 43-17.3 41-18.6 13-4.3 34-9.5 23-5.6 12-0.3 24 1.6 66 7.9 27 2.6 18 0.6 4-0.6 6-1.7 5-2.8 5-4.4 4-5.6 5-9.8 5-15.7 12-43.7 18-57.4 2-4.4 3-3.6 4-3.1 3-0.7 3 0.7 4 2 4 5.1 5 8.2 4 7.7 16 36 7 13.7 12 19.4 4 4.8 5 5 15 12.7 12 8.9 8 4.9 28 15 10 6.1 50 35.3 7 4.2 16 8.3 16 7.4 15 5.4 13 3.5 13 1.9 15 1.3 12 0.3 22-0.8 9 0 43 4.5 12 0.8 55-0.9 121 2.8"/>
<path d="M301 840.6l7 2.7 7 1.1 8 0.4 18-0.4 76-7.3 15-2.5 7-2.2 17-9.2 43-17.3 41-18.8 14-4.5 33-9.3 23-5.6 12-0.2 24 1.6 66 8.1 28 2.7 17 0.7 4-0.6 6-1.7 5-2.8 6-5.5 4-6.1 4-8 5-15.9 6-23 16-53.7 8-24.2 2-4.3 3-3.5 4-2.9 3-0.6 3 0.9 4 2.4 3 3.9 6 10.4 4 8.2 16 37.6 7 14.1 12 19.7 4 4.9 6 6 18 15.2 13 9.1 40 21.7 53 34.4 20 10 13 5.8 16 5.6 14 3.8 11 1.7 18 1.6 13 0.3 22-1 9 0.1 43 4.3 12 0.8 55-1 121 2.8"/>
<path d="M301 840.7l7 2.6 7 1.2 8 0.4 18-0.4 51-4.6 27-2.9 12-2.1 8-2.5 17-9.3 43-17.4 42-19.2 13-4.2 33-9.3 23-5.5 12-0.3 24 1.7 65 8.1 30 3 16 0.7 5-0.8 6-1.8 5-3.1 5-4.8 4-6 4-8 5-15.9 6-23.2 7-24.3 16-50.6 2-5.1 2-3.2 4-3.6 2-1.1 2-0.5 3 0.7 4 2.4 2 1.9 2 3.1 10 19.7 16 39.2 7 14.6 12 20.1 4 4.9 6 6.1 19 16.3 14 9.6 37 19.4 52 31.1 9 4.5 23 10.2 16 5.4 15 4 9 1.5 20 1.7 15 0.4 22-1.1 9 0 43 4.2 12 0.8 56-1.1 120 2.8"/>
<path d="M301 840.7l7 2.7 7 1.1 9 0.5 18-0.4 50-4.5 27-3.1 12-2.1 8-2.5 17-9.3 43-17.5 42-19.3 13-4.2 33-9.3 23-5.6 12-0.2 23 1.7 66 8.3 31 3.1 15 0.7 5-0.8 6-1.8 5-3 5-4.7 4-6 4-8 5-16 6-23.3 7-24.4 9-29.4 7-20.9 2-5.1 2-3 4-3.5 2-1 2-0.3 3 0.8 4 2.7 2 2 2 3.3 10 20.8 16 40.6 6 13 7 12.8 6 9.6 4 5 6 6.2 20 17.3 8 5.8 7 4.3 33 16.7 51 28.1 11 5.3 19 8 14 5 20 5.3 10 1.7 19 1.5 16 0.4 23-1.2 9 0 43 4.1 12 0.7 56-1.2 120 2.8"/>
</g>
<path d="M301 840.8l7 2.7 7 1.1 9 0.5 18-0.4 50-4.4 27-3.2 12-2.2 8-2.4 13-7.6 5-2.4 42-17.1 42-19.4 13-4.3 34-9.5 16-4.1 7-1.4" fill="none" stroke="#f00" stroke-width="2.4"/>
<path d="M745 780.4l13 0.5 10-2.4 4-2.3 4-3.3 3-3.4 3-4.7 4-8 2-5.8 15-54.8 9-29.6 8-23.8 2-5 2-2.9 4-3.1 2-1 2-0.2 2 0.6 3 1.9 3 2.6 2 2.9 11 24.1 16 42.6 5 11.3 6 11.6 7 11.9 4 5.4 6 6.5 21 18.6 8 6 8 4.9 64 31.6 32 14.3 22 8.3 18 5 16 3.3 17 1.5 22 0.8 24-1.4 9 0 43 3.9 12 0.7 57-1.3 119 2.8" fill="none" stroke="#f00" stroke-width="2.0"/>
<path d="M868 700.8l4 9.6 5 10.2 7 12.5 5 7.7 4 4.9 6 6.1 12 10.7 10 8.1 9 6.2 11 6.1 23 10.9 52 26.2 12 5.5 15 6.1 14 5 17 4.5 12 2.5 11 1.2 27 1.3 25-1.3 9 0 54 4.6 38-1" fill="none" stroke="#f00" stroke-width="2.0"/>
<path d="M895 745.6l11 10.3 11 9.3 9 6.7 9 5.4 30 14.7 32 16.9 27 13.6 20 8.6 17 6 14 3.8 10 2.2 7 1 17 1.3 17 0.5 30-1.3 54 4.7 14 0 26-0.9" fill="none" stroke="#f00" stroke-width="2.0"/>
<path d="M840 638l3 4.8 8 17.4 6 15 12 32.6 5 11.4 5 9.8 7 12.2 4 5.8 6 6.8 11 10.3 10 8.5 9 6.8 8 4.9 64 31.6 20 9.2 13 5.5 22 8.2 18 4.9 16 3.2 16 1.4 22 0.7 24-1.4 9-0.1 43 4 12 0.6 57-1.3 119 2.7" fill="none" stroke="#000" stroke-width="1.2"/>
<path d="M301 833.4l10 1 10-0.7 23-4.7 28-7.4 9-1.2 6 0.2 6 1 25 8.1 8 1.8 21 1.5 21-1 10-1.6 14-3.4 40-11.8 28-5.9 53-13.9 30-6.4 15-2.7 19-2.4 49-3.4 11-1.1 6-2 15-6.5 7-4.4 6-5.3 4-5 2-4 10-28.1" fill="none" stroke="#000" stroke-width="3"/>
<path d="M301 832.5l12-0.6 13-1.4 13-2.6 17-4.5 14-3.1 7-1.2 5-0.3 7 0.9 12 3.6 23 9.1 11 1.9 10 0.8 10-0.1 16-1.4 13-1.8 18-4.3 37-11.3 22-5.1 49-13.6 12-2.7 29-5.4 16-2.4 15-1.7 49-3.8 10-1.4 9-2.1 6-2.6 9-5.4 6-4.3 4-3.9 3-3.9 3-5.4 4-9.4 2-6" fill="none" stroke="#f0f" stroke-width="1.6"/>
<path d="M786 740.4l5-18.4 6-18.9 3-11.1 4-20.4 6-37.6 8-55.1 8-48.4 3-20.8 6-51.2 6-62.8 5-39.6 4-24.6" fill="none" stroke="#f0f" stroke-width="1.3" stroke-dasharray="1.5 3.5"/>
<path d="M968 232.2l6 19.5 5 20.4 14 78.3 8 40.1" fill="none" stroke="#f0f" stroke-width="1.3" stroke-dasharray="1.5 3.5"/>
<path d="M1000 374l6 34.5 18 123.2 6 33.9 5 23 11 37.7 16 58 13 41.2 7 18.3 8 17.5 8 15.1 7 10.3 7 7.9 6 5.5 6 4.3 7 3.9 38 16.4 32 12.2 12 5.1 11 3.1 21 3.7 55 5.2 50 1.5 39 0.6" fill="none" stroke="#000" stroke-width="3"/>
<path d="M1000 385l4 24.3 18 124.2 6 33.8 5 23.1 10 33.5 18 65.3 13 40.7 7 17.8 7 15.1 9 17 6 8.4 7 7.9 6 5.5 6 4.2 8 4.4 39 16.6 32 12.2 11 4.6 12 3.5 13 2.6 14 1.9 49 4.1 50 1.5 39 0.6" fill="none" stroke="#f0f" stroke-width="1.6"/>
<path d="M301 834.3l9 2.4 8 0 14-3.3 14-2.4 18-5.6 11-2.7 6-0.7 12 0.4 22 6.2 6 1.1 26 1.2 22-0.9 22-5.7 37-11.4 32-5.7 66-16.3 22-4.7 15-2.5 17-2 23-1.7 25-1.1 9-0.9 23-11.6 4-2.7 4-3.5 5-6.2 3-5.8 7-26.2 9-25 4-17.3 8-49.4 8-53.5 11-63.9 7-56.2 6-60 8-57.5 4-23 5-24.1 12-43.9 5-13.9 5-10.6 6-8.5 7-7.1 6-4.6 8-5 18-8.7 7-2.7 10-1.4 6 1.5 4 2.4 6 5.2 4 5.1 7 13.5 5 11.3 5 13.7 5 16.1 5 20.5 13 73 8 40.1 21 142.9 5 28.5 5 24.1 3 11.7 8 25.9 17 61.8 12 38.3 5 13.7 7 16.6 9 18 6 10.4 7 8.9 7 7.3 6 4.9 8 4.8 37 16.2 34 13.1 11 4.7 9 2.7 9 2.1 13 2 24 1.9 30 3.5 35 1.3 56 1" fill="none" stroke="#f0f" stroke-width="1.8"/>
<rect x="299" y="76" width="4" height="799" fill="#000"/>
<rect x="299" y="871" width="1091" height="4" fill="#000"/>
<rect x="301" y="75.8" width="1087" height="1.3" fill="#000"/>
<rect x="1386.9" y="76" width="1.2" height="800" fill="#000"/>
<rect x="1386" y="856" width="4" height="19" fill="#000"/>
<rect x="303" y="857.1" width="17" height="3.8" fill="#000"/>
<rect x="303" y="803.2" width="9" height="3.8" fill="#000"/>
<rect x="303" y="749.2" width="17" height="3.8" fill="#000"/>
<rect x="303" y="695.3" width="9" height="3.8" fill="#000"/>
<rect x="303" y="641.4" width="17" height="3.8" fill="#000"/>
<rect x="303" y="587.5" width="9" height="3.8" fill="#000"/>
<rect x="303" y="533.5" width="17" height="3.8" fill="#000"/>
<rect x="303" y="479.6" width="9" height="3.8" fill="#000"/>
<rect x="303" y="425.7" width="17" height="3.8" fill="#000"/>
<rect x="303" y="371.7" width="9" height="3.8" fill="#000"/>
<rect x="303" y="317.8" width="17" height="3.8" fill="#000"/>
<rect x="303" y="263.9" width="9" height="3.8" fill="#000"/>
<rect x="303" y="210.0" width="17" height="3.8" fill="#000"/>
<rect x="303" y="156.0" width="9" height="3.8" fill="#000"/>
<rect x="303" y="102.1" width="17" height="3.8" fill="#000"/>
<rect x="299.1" y="855" width="3.8" height="16" fill="#000"/>
<rect x="367.0" y="862" width="3.8" height="9" fill="#000"/>
<rect x="434.9" y="855" width="3.8" height="16" fill="#000"/>
<rect x="502.8" y="862" width="3.8" height="9" fill="#000"/>
<rect x="570.7" y="855" width="3.8" height="16" fill="#000"/>
<rect x="638.6" y="862" width="3.8" height="9" fill="#000"/>
<rect x="706.5" y="855" width="3.8" height="16" fill="#000"/>
<rect x="774.4" y="862" width="3.8" height="9" fill="#000"/>
<rect x="842.3" y="855" width="3.8" height="16" fill="#000"/>
<rect x="910.2" y="862" width="3.8" height="9" fill="#000"/>
<rect x="978.1" y="855" width="3.8" height="16" fill="#000"/>
<rect x="1046.0" y="862" width="3.8" height="9" fill="#000"/>
<rect x="1113.9" y="855" width="3.8" height="16" fill="#000"/>
<rect x="1181.8" y="862" width="3.8" height="9" fill="#000"/>
<rect x="1249.7" y="855" width="3.8" height="16" fill="#000"/>
<rect x="1317.6" y="862" width="3.8" height="9" fill="#000"/>
<rect x="1385.5" y="855" width="3.8" height="16" fill="#000"/>
<text x="267.9" y="120.6" font-family="Liberation Sans" font-size="47.31" text-anchor="end">2.8x10</text>
<text x="267.9" y="229.2" font-family="Liberation Sans" font-size="47.26" text-anchor="end">2.4x10</text>
<text x="267.9" y="336.6" font-family="Liberation Sans" font-size="47.26" text-anchor="end">2.0x10</text>
<text x="268.4" y="445.0" font-family="Liberation Sans" font-size="47.6" text-anchor="end">1.6x10</text>
<text x="268.4" y="553.0" font-family="Liberation Sans" font-size="47.6" text-anchor="end">1.2x10</text>
<text x="268.4" y="660.3" font-family="Liberation Sans" font-size="47.11" text-anchor="end">8.0x10</text>
<text x="270.4" y="768.9" font-family="Liberation Sans" font-size="47.85" text-anchor="end">4.0x10</text>
<text x="268.0" y="95.3" font-family="Liberation Sans" font-size="27.86">7</text>
<text x="268.0" y="203.6" font-family="Liberation Sans" font-size="27.86">7</text>
<text x="268.0" y="310.9" font-family="Liberation Sans" font-size="27.86">7</text>
<text x="268.0" y="419.2" font-family="Liberation Sans" font-size="27.86">7</text>
<text x="268.0" y="526.8" font-family="Liberation Sans" font-size="27.86">7</text>
<text x="267.8" y="635.2" font-family="Liberation Sans" font-size="27.95">6</text>
<text x="267.3" y="742.5" font-family="Liberation Sans" font-size="28.24">6</text>
<text x="283.8" y="866.2" font-family="Liberation Sans" font-size="46.46" text-anchor="end">0.0</text>
<text x="300.5" y="927.0" font-family="Liberation Sans" font-size="47.7" text-anchor="middle">240</text>
<text x="436.2" y="927.0" font-family="Liberation Sans" font-size="47.7" text-anchor="middle">260</text>
<text x="572.2" y="927.0" font-family="Liberation Sans" font-size="47.7" text-anchor="middle">280</text>
<text x="708.6" y="927.0" font-family="Liberation Sans" font-size="47.7" text-anchor="middle">300</text>
<text x="843.5" y="927.0" font-family="Liberation Sans" font-size="47.7" text-anchor="middle">320</text>
<text x="980.4" y="927.0" font-family="Liberation Sans" font-size="47.7" text-anchor="middle">340</text>
<text x="1115.7" y="927.0" font-family="Liberation Sans" font-size="47.7" text-anchor="middle">360</text>
<text x="1251.3" y="927.0" font-family="Liberation Sans" font-size="47.7" text-anchor="middle">380</text>
<text x="1386.8" y="927.0" font-family="Liberation Sans" font-size="47.7" text-anchor="middle">400</text>
<text x="845.5" y="1004" font-family="Liberation Sans" font-size="45.65" font-weight="bold" text-anchor="middle">Wavelenghts (nm)</text>
<text transform="translate(95.8,504.8) rotate(-90)" font-family="Liberation Sans" font-size="45.49" font-weight="bold" text-anchor="middle">Intensity (counts/sec)</text>
<text x="1387.3" y="120.7" font-family="Liberation Sans" font-size="46.04" font-weight="bold" text-anchor="end">Melatonin + 1 ml NaOH 1.5M</text>
<text x="328.5" y="138.3" font-family="Liberation Sans" font-size="46.95" font-weight="bold">e</text>
<text x="1117.7" y="177.7" font-family="Liberation Serif" font-size="42.6">λ</text>
<text x="1139.3" y="194.3" font-family="Liberation Sans" font-size="28.17">en</text>
<text x="1182.8" y="176.9" font-family="Liberation Sans" font-size="47.25">= 420 nm</text>
<text x="349.8" y="792.9" font-family="Liberation Sans" font-size="46.25">252</text>
<text x="655.1" y="725.9" font-family="Liberation Sans" font-size="47.04">296</text>
<text transform="translate(845.9,250.3) rotate(-90)" font-family="Liberation Sans" font-size="46.76">327</text>
<text transform="translate(1016.2,223.9) rotate(-90)" font-family="Liberation Sans" font-size="47.51">333</text>
<text transform="translate(849.4,737.8) rotate(-90)" font-family="Liberation Sans" font-size="46.24">318</text>
<text x="1180.7" y="441.7" font-family="Liberation Sans" font-size="46.34">131 min.</text>
<text x="1179.2" y="726.5" font-family="Liberation Sans" font-size="46.45">0 min.</text>
<text x="734.8" y="1174.7" font-family="Liberation Serif" font-size="77.37" text-anchor="middle">(<tspan font-weight="bold">e</tspan>)</text>
<rect x="1150.2" y="398" width="3" height="338" fill="#000"/>
<path d="M1151.7,385 L1147.4,402 L1156,402 Z" fill="#000"/>
</svg>
</body></html>
